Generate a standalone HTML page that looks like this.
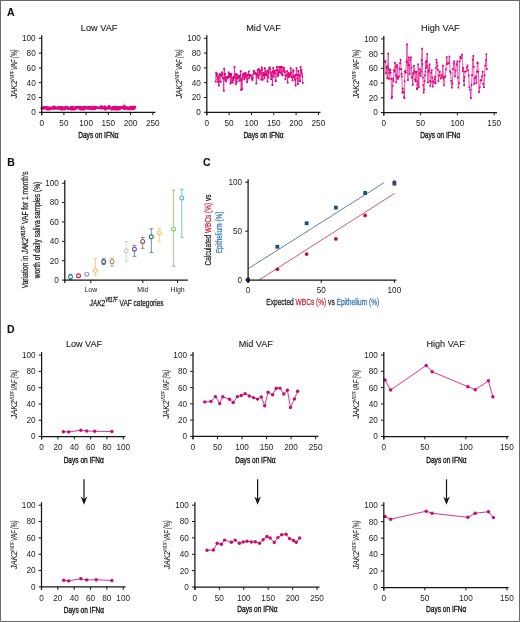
<!DOCTYPE html>
<html><head><meta charset="utf-8"><style>
html,body{margin:0;padding:0;background:#fff;}
svg{display:block;will-change:transform;}
text{font-family:"Liberation Sans", sans-serif;}
</style></head><body>
<svg width="520" height="622" viewBox="0 0 520 622" font-family='"Liberation Sans", sans-serif'>
<rect x="0" y="0" width="520" height="622" fill="#fff"/>
<rect x="0.5" y="0.5" width="519" height="621" fill="none" stroke="#6a6a6a" stroke-width="1"/>
<text x="7" y="16.2" font-size="10.5" fill="#111" stroke="#111" stroke-width="0.1" font-weight="bold">A</text>
<text x="7.2" y="165.5" font-size="10.5" fill="#111" stroke="#111" stroke-width="0.1" font-weight="bold">B</text>
<text x="203" y="165.5" font-size="10.5" fill="#111" stroke="#111" stroke-width="0.1" font-weight="bold">C</text>
<text x="7" y="332.7" font-size="10.5" fill="#111" stroke="#111" stroke-width="0.1" font-weight="bold">D</text>
<path d="M41.7 108.2 L42.14 107.63 L42.59 108.18 L43.03 108.24 L43.48 108.7 L43.92 108.17 L44.37 107.19 L44.81 107.69 L45.26 107.24 L45.7 107.82 L46.14 107.72 L46.59 107.87 L47.03 109.24 L47.48 107.38 L47.92 107.63 L48.37 107.64 L48.81 109.26 L49.25 109.3 L49.7 108.67 L50.14 108.35 L50.59 107.78 L51.03 108.04 L51.48 107.62 L51.92 108.48 L52.37 107.78 L52.81 107.72 L53.25 108.5 L53.7 106.74 L54.14 107.6 L54.59 107.12 L55.03 108.47 L55.48 108.56 L55.92 108.26 L56.37 108.09 L56.81 107.54 L57.25 107.82 L57.7 108.34 L58.14 108.72 L58.59 108.39 L59.03 107.1 L59.48 108.61 L59.92 107.83 L60.36 107.69 L60.81 109.11 L61.25 107.97 L61.7 107.04 L62.14 109.34 L62.59 108.25 L63.03 108.09 L63.48 108.61 L63.92 107.64 L64.36 108.05 L64.81 109.09 L65.25 107.4 L65.7 107.51 L66.14 107.31 L66.59 106.94 L67.03 107.74 L67.48 107.92 L67.92 108.97 L68.36 107.55 L68.81 108.46 L69.25 108.34 L69.7 108.94 L70.14 108.72 L70.59 108.4 L71.03 107.05 L71.47 109.34 L71.92 109.09 L72.36 107.83 L72.81 106.94 L73.25 107.58 L73.7 109.34 L74.14 109.34 L74.59 107.74 L75.03 108.55 L75.47 108.84 L75.92 107.28 L76.36 107.19 L76.81 107.89 L77.25 107.83 L77.7 107.69 L78.14 106.83 L78.59 107.55 L79.03 107.62 L79.47 107.6 L79.92 109.17 L80.36 107.06 L80.81 107.3 L81.25 107.62 L81.7 109.34 L82.14 108.48 L82.58 107.38 L83.03 109.34 L83.47 108.14 L83.92 107.25 L84.36 108.98 L84.81 106.82 L85.25 107.6 L85.7 108.12 L86.14 107.77 L86.58 107.53 L87.03 107.92 L87.47 107.16 L87.92 108.5 L88.36 108.31 L88.81 107.24 L89.25 107.99 L89.7 108.66 L90.14 107.31 L90.58 106.92 L91.03 108.34 L91.47 109.03 L91.92 108.11 L92.36 108.12 L92.81 108.23 L93.25 106.97 L93.69 108.77 L94.14 107.08 L94.58 108.95 L95.03 108.59 L95.47 107.54 L95.92 107.17 L96.36 107.37 L96.81 107.75 L97.25 107.9 L97.69 107.9 L98.14 107.58 L98.58 108.14 L99.03 107.8 L99.47 107.58 L99.92 108.01 L100.36 107.44 L100.81 107.59 L101.25 106.52 L101.69 107.77 L102.14 108.32 L102.58 108.28 L103.03 108.02 L103.47 107.32 L103.92 108.26 L104.36 107.72 L104.8 106.65 L105.25 109.34 L105.69 108.84 L106.14 107.83 L106.58 107.71 L107.03 107.83 L107.47 108.33 L107.92 107.52 L108.36 107.8 L108.8 108.39 L109.25 106.21 L109.69 107.75 L110.14 108.42 L110.58 108.08 L111.03 108.17 L111.47 108.05 L111.92 109.34 L112.36 108.37 L112.8 107.26 L113.25 108.87 L113.69 108.06 L114.14 107.3 L114.58 107.37 L115.03 106.9 L115.47 109.27 L115.91 108.27 L116.36 108.26 L116.8 107.55 L117.25 107.2 L117.69 109.34 L118.14 107.2 L118.58 109.08 L119.03 107.5 L119.47 109.11 L119.91 107.88 L120.36 107.12 L120.8 108.12 L121.25 107.87 L121.69 107.42 L122.14 107.9 L122.58 108.07 L123.03 106.87 L123.47 107.23 L123.91 108.23 L124.36 105.98 L124.8 108.86 L125.25 107.33 L125.69 108.2 L126.14 107.91 L126.58 107.49 L127.02 107.84 L127.47 107.54 L127.91 109.14 L128.36 109.13 L128.8 107.55 L129.25 108.72 L129.69 108.77 L130.14 109.1 L130.58 107.07 L131.02 107.46 L131.47 106.92 L131.91 108.7 L132.36 108.01 L132.8 108.85 L133.25 107.44 L133.69 106.83 L134.14 108.67 L134.58 106.85 L135.02 107.28" fill="none" stroke="#ec108e" stroke-width="1.6" stroke-linejoin="round"/>
<path d="M40.55 107.05h2.3v2.3h-2.3zM40.99 106.48h2.3v2.3h-2.3zM41.44 107.03h2.3v2.3h-2.3zM41.88 107.09h2.3v2.3h-2.3zM42.33 107.55h2.3v2.3h-2.3zM42.77 107.02h2.3v2.3h-2.3zM43.22 106.04h2.3v2.3h-2.3zM43.66 106.54h2.3v2.3h-2.3zM44.11 106.09h2.3v2.3h-2.3zM44.55 106.67h2.3v2.3h-2.3zM44.99 106.57h2.3v2.3h-2.3zM45.44 106.72h2.3v2.3h-2.3zM45.88 108.09h2.3v2.3h-2.3zM46.33 106.23h2.3v2.3h-2.3zM46.77 106.48h2.3v2.3h-2.3zM47.22 106.49h2.3v2.3h-2.3zM47.66 108.11h2.3v2.3h-2.3zM48.1 108.15h2.3v2.3h-2.3zM48.55 107.52h2.3v2.3h-2.3zM48.99 107.2h2.3v2.3h-2.3zM49.44 106.63h2.3v2.3h-2.3zM49.88 106.89h2.3v2.3h-2.3zM50.33 106.47h2.3v2.3h-2.3zM50.77 107.33h2.3v2.3h-2.3zM51.22 106.63h2.3v2.3h-2.3zM51.66 106.57h2.3v2.3h-2.3zM52.1 107.35h2.3v2.3h-2.3zM52.55 105.59h2.3v2.3h-2.3zM52.99 106.45h2.3v2.3h-2.3zM53.44 105.97h2.3v2.3h-2.3zM53.88 107.32h2.3v2.3h-2.3zM54.33 107.41h2.3v2.3h-2.3zM54.77 107.11h2.3v2.3h-2.3zM55.22 106.94h2.3v2.3h-2.3zM55.66 106.39h2.3v2.3h-2.3zM56.1 106.67h2.3v2.3h-2.3zM56.55 107.19h2.3v2.3h-2.3zM56.99 107.57h2.3v2.3h-2.3zM57.44 107.24h2.3v2.3h-2.3zM57.88 105.95h2.3v2.3h-2.3zM58.33 107.46h2.3v2.3h-2.3zM58.77 106.68h2.3v2.3h-2.3zM59.21 106.54h2.3v2.3h-2.3zM59.66 107.96h2.3v2.3h-2.3zM60.1 106.82h2.3v2.3h-2.3zM60.55 105.89h2.3v2.3h-2.3zM60.99 108.19h2.3v2.3h-2.3zM61.44 107.1h2.3v2.3h-2.3zM61.88 106.94h2.3v2.3h-2.3zM62.33 107.46h2.3v2.3h-2.3zM62.77 106.49h2.3v2.3h-2.3zM63.21 106.9h2.3v2.3h-2.3zM63.66 107.94h2.3v2.3h-2.3zM64.1 106.25h2.3v2.3h-2.3zM64.55 106.36h2.3v2.3h-2.3zM64.99 106.16h2.3v2.3h-2.3zM65.44 105.79h2.3v2.3h-2.3zM65.88 106.59h2.3v2.3h-2.3zM66.33 106.77h2.3v2.3h-2.3zM66.77 107.82h2.3v2.3h-2.3zM67.21 106.4h2.3v2.3h-2.3zM67.66 107.31h2.3v2.3h-2.3zM68.1 107.19h2.3v2.3h-2.3zM68.55 107.79h2.3v2.3h-2.3zM68.99 107.57h2.3v2.3h-2.3zM69.44 107.25h2.3v2.3h-2.3zM69.88 105.9h2.3v2.3h-2.3zM70.32 108.19h2.3v2.3h-2.3zM70.77 107.94h2.3v2.3h-2.3zM71.21 106.68h2.3v2.3h-2.3zM71.66 105.79h2.3v2.3h-2.3zM72.1 106.43h2.3v2.3h-2.3zM72.55 108.19h2.3v2.3h-2.3zM72.99 108.19h2.3v2.3h-2.3zM73.44 106.59h2.3v2.3h-2.3zM73.88 107.4h2.3v2.3h-2.3zM74.32 107.69h2.3v2.3h-2.3zM74.77 106.13h2.3v2.3h-2.3zM75.21 106.04h2.3v2.3h-2.3zM75.66 106.74h2.3v2.3h-2.3zM76.1 106.68h2.3v2.3h-2.3zM76.55 106.54h2.3v2.3h-2.3zM76.99 105.68h2.3v2.3h-2.3zM77.44 106.4h2.3v2.3h-2.3zM77.88 106.47h2.3v2.3h-2.3zM78.32 106.45h2.3v2.3h-2.3zM78.77 108.02h2.3v2.3h-2.3zM79.21 105.91h2.3v2.3h-2.3zM79.66 106.15h2.3v2.3h-2.3zM80.1 106.47h2.3v2.3h-2.3zM80.55 108.19h2.3v2.3h-2.3zM80.99 107.33h2.3v2.3h-2.3zM81.43 106.23h2.3v2.3h-2.3zM81.88 108.19h2.3v2.3h-2.3zM82.32 106.99h2.3v2.3h-2.3zM82.77 106.1h2.3v2.3h-2.3zM83.21 107.83h2.3v2.3h-2.3zM83.66 105.67h2.3v2.3h-2.3zM84.1 106.45h2.3v2.3h-2.3zM84.55 106.97h2.3v2.3h-2.3zM84.99 106.62h2.3v2.3h-2.3zM85.43 106.38h2.3v2.3h-2.3zM85.88 106.77h2.3v2.3h-2.3zM86.32 106.01h2.3v2.3h-2.3zM86.77 107.35h2.3v2.3h-2.3zM87.21 107.16h2.3v2.3h-2.3zM87.66 106.09h2.3v2.3h-2.3zM88.1 106.84h2.3v2.3h-2.3zM88.55 107.51h2.3v2.3h-2.3zM88.99 106.16h2.3v2.3h-2.3zM89.43 105.77h2.3v2.3h-2.3zM89.88 107.19h2.3v2.3h-2.3zM90.32 107.88h2.3v2.3h-2.3zM90.77 106.96h2.3v2.3h-2.3zM91.21 106.97h2.3v2.3h-2.3zM91.66 107.08h2.3v2.3h-2.3zM92.1 105.82h2.3v2.3h-2.3zM92.54 107.62h2.3v2.3h-2.3zM92.99 105.93h2.3v2.3h-2.3zM93.43 107.8h2.3v2.3h-2.3zM93.88 107.44h2.3v2.3h-2.3zM94.32 106.39h2.3v2.3h-2.3zM94.77 106.02h2.3v2.3h-2.3zM95.21 106.22h2.3v2.3h-2.3zM95.66 106.6h2.3v2.3h-2.3zM96.1 106.75h2.3v2.3h-2.3zM96.54 106.75h2.3v2.3h-2.3zM96.99 106.43h2.3v2.3h-2.3zM97.43 106.99h2.3v2.3h-2.3zM97.88 106.65h2.3v2.3h-2.3zM98.32 106.43h2.3v2.3h-2.3zM98.77 106.86h2.3v2.3h-2.3zM99.21 106.29h2.3v2.3h-2.3zM99.66 106.44h2.3v2.3h-2.3zM100.1 105.37h2.3v2.3h-2.3zM100.54 106.62h2.3v2.3h-2.3zM100.99 107.17h2.3v2.3h-2.3zM101.43 107.13h2.3v2.3h-2.3zM101.88 106.87h2.3v2.3h-2.3zM102.32 106.17h2.3v2.3h-2.3zM102.77 107.11h2.3v2.3h-2.3zM103.21 106.57h2.3v2.3h-2.3zM103.65 105.5h2.3v2.3h-2.3zM104.1 108.19h2.3v2.3h-2.3zM104.54 107.69h2.3v2.3h-2.3zM104.99 106.68h2.3v2.3h-2.3zM105.43 106.56h2.3v2.3h-2.3zM105.88 106.68h2.3v2.3h-2.3zM106.32 107.18h2.3v2.3h-2.3zM106.77 106.37h2.3v2.3h-2.3zM107.21 106.65h2.3v2.3h-2.3zM107.65 107.24h2.3v2.3h-2.3zM108.1 105.06h2.3v2.3h-2.3zM108.54 106.6h2.3v2.3h-2.3zM108.99 107.27h2.3v2.3h-2.3zM109.43 106.93h2.3v2.3h-2.3zM109.88 107.02h2.3v2.3h-2.3zM110.32 106.9h2.3v2.3h-2.3zM110.77 108.19h2.3v2.3h-2.3zM111.21 107.22h2.3v2.3h-2.3zM111.65 106.11h2.3v2.3h-2.3zM112.1 107.72h2.3v2.3h-2.3zM112.54 106.91h2.3v2.3h-2.3zM112.99 106.15h2.3v2.3h-2.3zM113.43 106.22h2.3v2.3h-2.3zM113.88 105.75h2.3v2.3h-2.3zM114.32 108.12h2.3v2.3h-2.3zM114.76 107.12h2.3v2.3h-2.3zM115.21 107.11h2.3v2.3h-2.3zM115.65 106.4h2.3v2.3h-2.3zM116.1 106.05h2.3v2.3h-2.3zM116.54 108.19h2.3v2.3h-2.3zM116.99 106.05h2.3v2.3h-2.3zM117.43 107.93h2.3v2.3h-2.3zM117.88 106.35h2.3v2.3h-2.3zM118.32 107.96h2.3v2.3h-2.3zM118.76 106.73h2.3v2.3h-2.3zM119.21 105.97h2.3v2.3h-2.3zM119.65 106.97h2.3v2.3h-2.3zM120.1 106.72h2.3v2.3h-2.3zM120.54 106.27h2.3v2.3h-2.3zM120.99 106.75h2.3v2.3h-2.3zM121.43 106.92h2.3v2.3h-2.3zM121.88 105.72h2.3v2.3h-2.3zM122.32 106.08h2.3v2.3h-2.3zM122.76 107.08h2.3v2.3h-2.3zM123.21 104.83h2.3v2.3h-2.3zM123.65 107.71h2.3v2.3h-2.3zM124.1 106.18h2.3v2.3h-2.3zM124.54 107.05h2.3v2.3h-2.3zM124.99 106.76h2.3v2.3h-2.3zM125.43 106.34h2.3v2.3h-2.3zM125.87 106.69h2.3v2.3h-2.3zM126.32 106.39h2.3v2.3h-2.3zM126.76 107.99h2.3v2.3h-2.3zM127.21 107.98h2.3v2.3h-2.3zM127.65 106.4h2.3v2.3h-2.3zM128.1 107.57h2.3v2.3h-2.3zM128.54 107.62h2.3v2.3h-2.3zM128.99 107.95h2.3v2.3h-2.3zM129.43 105.92h2.3v2.3h-2.3zM129.87 106.31h2.3v2.3h-2.3zM130.32 105.77h2.3v2.3h-2.3zM130.76 107.55h2.3v2.3h-2.3zM131.21 106.86h2.3v2.3h-2.3zM131.65 107.7h2.3v2.3h-2.3zM132.1 106.29h2.3v2.3h-2.3zM132.54 105.68h2.3v2.3h-2.3zM132.99 107.52h2.3v2.3h-2.3zM133.43 105.7h2.3v2.3h-2.3zM133.87 106.13h2.3v2.3h-2.3z" fill="#e0047f"/>
<line x1="41.7" y1="115.2" x2="41.7" y2="35.3" stroke="#141414" stroke-width="1.25"/>
<line x1="41.1" y1="112.3" x2="155.5" y2="112.3" stroke="#141414" stroke-width="1.25"/>
<line x1="38.8" y1="112.3" x2="41.7" y2="112.3" stroke="#141414" stroke-width="1"/>
<text x="35.7" y="115.2" font-size="8.2" fill="#1e1e1e" text-anchor="end">0</text>
<line x1="38.8" y1="97.5" x2="41.7" y2="97.5" stroke="#141414" stroke-width="1"/>
<text x="35.7" y="100.4" font-size="8.2" fill="#1e1e1e" text-anchor="end">20</text>
<line x1="38.8" y1="82.7" x2="41.7" y2="82.7" stroke="#141414" stroke-width="1"/>
<text x="35.7" y="85.6" font-size="8.2" fill="#1e1e1e" text-anchor="end">40</text>
<line x1="38.8" y1="67.9" x2="41.7" y2="67.9" stroke="#141414" stroke-width="1"/>
<text x="35.7" y="70.8" font-size="8.2" fill="#1e1e1e" text-anchor="end">60</text>
<line x1="38.8" y1="53.1" x2="41.7" y2="53.1" stroke="#141414" stroke-width="1"/>
<text x="35.7" y="56" font-size="8.2" fill="#1e1e1e" text-anchor="end">80</text>
<line x1="38.8" y1="38.3" x2="41.7" y2="38.3" stroke="#141414" stroke-width="1"/>
<text x="35.7" y="41.2" font-size="8.2" fill="#1e1e1e" text-anchor="end">100</text>
<line x1="41.7" y1="112.3" x2="41.7" y2="115.2" stroke="#141414" stroke-width="1"/>
<text x="41.7" y="125.6" font-size="8.2" fill="#1e1e1e" text-anchor="middle">0</text>
<line x1="63.92" y1="112.3" x2="63.92" y2="115.2" stroke="#141414" stroke-width="1"/>
<text x="63.92" y="125.6" font-size="8.2" fill="#1e1e1e" text-anchor="middle">50</text>
<line x1="86.14" y1="112.3" x2="86.14" y2="115.2" stroke="#141414" stroke-width="1"/>
<text x="86.14" y="125.6" font-size="8.2" fill="#1e1e1e" text-anchor="middle">100</text>
<line x1="108.36" y1="112.3" x2="108.36" y2="115.2" stroke="#141414" stroke-width="1"/>
<text x="108.36" y="125.6" font-size="8.2" fill="#1e1e1e" text-anchor="middle">150</text>
<line x1="130.58" y1="112.3" x2="130.58" y2="115.2" stroke="#141414" stroke-width="1"/>
<text x="130.58" y="125.6" font-size="8.2" fill="#1e1e1e" text-anchor="middle">200</text>
<line x1="152.8" y1="112.3" x2="152.8" y2="115.2" stroke="#141414" stroke-width="1"/>
<text x="152.8" y="125.6" font-size="8.2" fill="#1e1e1e" text-anchor="middle">250</text>
<text x="99.1" y="30.7" font-size="9.2" fill="#1a1a1a" stroke="#1a1a1a" stroke-width="0.1" text-anchor="middle">Low VAF</text>
<text x="17.2" y="98.6" font-size="8.5" fill="#262626" stroke="#262626" stroke-width="0.1" font-style="italic" transform="rotate(-90 17.2 98.6)" textLength="18.3" lengthAdjust="spacingAndGlyphs">JAK2</text>
<text x="13.7" y="80.5" font-size="5.355" fill="#262626" stroke="#262626" stroke-width="0.05" font-style="italic" transform="rotate(-90 13.7 80.5)" textLength="9.62" lengthAdjust="spacingAndGlyphs">V617F</text>
<text x="17.2" y="70.08" font-size="8.5" fill="#262626" stroke="#262626" stroke-width="0.1" font-style="italic" transform="rotate(-90 17.2 70.08)" textLength="20.78" lengthAdjust="spacingAndGlyphs">VAF (%)</text>
<text x="98.35" y="138" font-size="9.4" fill="#1e1e1e" stroke="#1e1e1e" stroke-width="0.42" text-anchor="middle" textLength="40.2" lengthAdjust="spacingAndGlyphs">Days on IFN&#945;</text>
<path d="M215.73 81.69 L216.17 72.71 L216.62 76.23 L217.07 74.13 L217.51 79.27 L217.96 82.04 L218.41 77.74 L218.85 85.66 L219.3 75.89 L219.75 73.78 L220.19 81.66 L220.64 81.92 L221.08 75.12 L221.53 75.91 L221.98 72.3 L222.42 74.18 L222.87 77.87 L223.32 78.45 L223.76 90.84 L224.21 68.77 L224.66 78.5 L225.1 73.82 L225.55 80.19 L226 81.39 L226.44 77.2 L226.89 77.03 L227.33 78.69 L227.78 77.73 L228.23 76.59 L228.67 72.34 L229.12 75.16 L229.57 73.79 L230.01 76.81 L230.46 83.61 L230.91 75.13 L231.35 73.82 L231.8 82.35 L232.24 78.1 L232.69 82.54 L233.14 77.51 L233.58 80.17 L234.03 76.79 L234.48 66.79 L234.92 77.69 L235.37 74.65 L235.82 84.18 L236.26 73.82 L236.71 82.02 L237.16 78.5 L237.6 75.26 L238.05 77.84 L238.49 76.26 L238.94 77.17 L239.39 80.94 L239.83 75.6 L240.28 80.28 L240.73 71.15 L241.17 89.73 L241.62 79.24 L242.07 89.36 L242.51 75.18 L242.96 77.47 L243.4 74.19 L243.85 73.3 L244.3 79.4 L244.74 73.9 L245.19 77.68 L245.64 72.92 L246.08 75.05 L246.53 76.65 L246.98 82.18 L247.42 79.7 L247.87 74.39 L248.32 75.37 L248.76 71.33 L249.21 78.16 L249.65 74.94 L250.1 75.06 L250.55 75.78 L250.99 75.99 L251.44 76.04 L251.89 78.65 L252.33 80.02 L252.78 77.88 L253.23 74.47 L253.67 70.86 L254.12 71.25 L254.56 73.03 L255.01 72.73 L255.46 73.62 L255.9 73.85 L256.35 83.59 L256.8 75.51 L257.24 73.47 L257.69 70.01 L258.14 77.12 L258.58 78.33 L259.03 69.25 L259.48 75.05 L259.92 70.71 L260.37 72.49 L260.81 72.78 L261.26 79.57 L261.71 67.38 L262.15 69.58 L262.6 79.89 L263.05 74.93 L263.49 72.93 L263.94 75.02 L264.39 78.41 L264.83 68.27 L265.28 75.7 L265.72 74 L266.17 71.43 L266.62 72.77 L267.06 74.94 L267.51 81.59 L267.96 70.45 L268.4 77.61 L268.85 72.27 L269.3 67.9 L269.74 67.31 L270.19 69.29 L270.64 74.07 L271.08 79.18 L271.53 76.17 L271.97 72.27 L272.42 85.22 L272.87 71.28 L273.31 67.81 L273.76 76.5 L274.21 73.07 L274.65 70.87 L275.1 73.62 L275.55 81.15 L275.99 81.22 L276.44 70.33 L276.88 66.79 L277.33 69.66 L277.78 76.2 L278.22 74.48 L278.67 72.32 L279.12 66.79 L279.56 70.98 L280.01 72.69 L280.46 67.78 L280.9 66.94 L281.35 73.36 L281.8 66.79 L282.24 75.41 L282.69 74.7 L283.13 70.63 L283.58 67.68 L284.03 68.23 L284.47 70.85 L284.92 72.05 L285.37 79.28 L285.81 75.51 L286.26 75.16 L286.71 74.9 L287.15 71.08 L287.6 82.7 L288.04 76.81 L288.49 72.99 L288.94 75.39 L289.38 76.8 L289.83 75.27 L290.28 74.21 L290.72 68.05 L291.17 72.75 L291.62 77.3 L292.06 76.46 L292.51 80.31 L292.96 70.21 L293.4 70.73 L293.85 76.28 L294.29 77.3 L294.74 79.88 L295.19 75.09 L295.63 85.66 L296.08 74.97 L296.53 68.24 L296.97 74.83 L297.42 78.32 L297.87 83.99 L298.31 70.87 L298.76 75.03 L299.2 81.15 L299.65 75.06 L300.1 81.15 L300.54 66.79 L300.99 71.86 L301.44 69.9 L301.88 73.72 L302.33 76.27 L302.78 82.95" fill="none" stroke="#ea2090" stroke-width="0.85" stroke-linejoin="round"/>
<path d="M214.83 80.79h1.8v1.8h-1.8zM215.27 71.81h1.8v1.8h-1.8zM215.72 75.33h1.8v1.8h-1.8zM216.17 73.23h1.8v1.8h-1.8zM216.61 78.37h1.8v1.8h-1.8zM217.06 81.14h1.8v1.8h-1.8zM217.51 76.84h1.8v1.8h-1.8zM217.95 84.76h1.8v1.8h-1.8zM218.4 74.99h1.8v1.8h-1.8zM218.85 72.88h1.8v1.8h-1.8zM219.29 80.76h1.8v1.8h-1.8zM219.74 81.02h1.8v1.8h-1.8zM220.18 74.22h1.8v1.8h-1.8zM220.63 75.01h1.8v1.8h-1.8zM221.08 71.4h1.8v1.8h-1.8zM221.52 73.28h1.8v1.8h-1.8zM221.97 76.97h1.8v1.8h-1.8zM222.42 77.55h1.8v1.8h-1.8zM222.86 89.94h1.8v1.8h-1.8zM223.31 67.87h1.8v1.8h-1.8zM223.76 77.6h1.8v1.8h-1.8zM224.2 72.92h1.8v1.8h-1.8zM224.65 79.29h1.8v1.8h-1.8zM225.1 80.49h1.8v1.8h-1.8zM225.54 76.3h1.8v1.8h-1.8zM225.99 76.13h1.8v1.8h-1.8zM226.43 77.79h1.8v1.8h-1.8zM226.88 76.83h1.8v1.8h-1.8zM227.33 75.69h1.8v1.8h-1.8zM227.77 71.44h1.8v1.8h-1.8zM228.22 74.26h1.8v1.8h-1.8zM228.67 72.89h1.8v1.8h-1.8zM229.11 75.91h1.8v1.8h-1.8zM229.56 82.71h1.8v1.8h-1.8zM230.01 74.23h1.8v1.8h-1.8zM230.45 72.92h1.8v1.8h-1.8zM230.9 81.45h1.8v1.8h-1.8zM231.34 77.2h1.8v1.8h-1.8zM231.79 81.64h1.8v1.8h-1.8zM232.24 76.61h1.8v1.8h-1.8zM232.68 79.27h1.8v1.8h-1.8zM233.13 75.89h1.8v1.8h-1.8zM233.58 65.89h1.8v1.8h-1.8zM234.02 76.79h1.8v1.8h-1.8zM234.47 73.75h1.8v1.8h-1.8zM234.92 83.28h1.8v1.8h-1.8zM235.36 72.92h1.8v1.8h-1.8zM235.81 81.12h1.8v1.8h-1.8zM236.26 77.6h1.8v1.8h-1.8zM236.7 74.36h1.8v1.8h-1.8zM237.15 76.94h1.8v1.8h-1.8zM237.59 75.36h1.8v1.8h-1.8zM238.04 76.27h1.8v1.8h-1.8zM238.49 80.04h1.8v1.8h-1.8zM238.93 74.7h1.8v1.8h-1.8zM239.38 79.38h1.8v1.8h-1.8zM239.83 70.25h1.8v1.8h-1.8zM240.27 88.83h1.8v1.8h-1.8zM240.72 78.34h1.8v1.8h-1.8zM241.17 88.46h1.8v1.8h-1.8zM241.61 74.28h1.8v1.8h-1.8zM242.06 76.57h1.8v1.8h-1.8zM242.5 73.29h1.8v1.8h-1.8zM242.95 72.4h1.8v1.8h-1.8zM243.4 78.5h1.8v1.8h-1.8zM243.84 73h1.8v1.8h-1.8zM244.29 76.78h1.8v1.8h-1.8zM244.74 72.02h1.8v1.8h-1.8zM245.18 74.15h1.8v1.8h-1.8zM245.63 75.75h1.8v1.8h-1.8zM246.08 81.28h1.8v1.8h-1.8zM246.52 78.8h1.8v1.8h-1.8zM246.97 73.49h1.8v1.8h-1.8zM247.42 74.47h1.8v1.8h-1.8zM247.86 70.43h1.8v1.8h-1.8zM248.31 77.26h1.8v1.8h-1.8zM248.75 74.04h1.8v1.8h-1.8zM249.2 74.16h1.8v1.8h-1.8zM249.65 74.88h1.8v1.8h-1.8zM250.09 75.09h1.8v1.8h-1.8zM250.54 75.14h1.8v1.8h-1.8zM250.99 77.75h1.8v1.8h-1.8zM251.43 79.12h1.8v1.8h-1.8zM251.88 76.98h1.8v1.8h-1.8zM252.33 73.57h1.8v1.8h-1.8zM252.77 69.96h1.8v1.8h-1.8zM253.22 70.35h1.8v1.8h-1.8zM253.66 72.13h1.8v1.8h-1.8zM254.11 71.83h1.8v1.8h-1.8zM254.56 72.72h1.8v1.8h-1.8zM255 72.95h1.8v1.8h-1.8zM255.45 82.69h1.8v1.8h-1.8zM255.9 74.61h1.8v1.8h-1.8zM256.34 72.57h1.8v1.8h-1.8zM256.79 69.11h1.8v1.8h-1.8zM257.24 76.22h1.8v1.8h-1.8zM257.68 77.43h1.8v1.8h-1.8zM258.13 68.35h1.8v1.8h-1.8zM258.58 74.15h1.8v1.8h-1.8zM259.02 69.81h1.8v1.8h-1.8zM259.47 71.59h1.8v1.8h-1.8zM259.91 71.88h1.8v1.8h-1.8zM260.36 78.67h1.8v1.8h-1.8zM260.81 66.48h1.8v1.8h-1.8zM261.25 68.68h1.8v1.8h-1.8zM261.7 78.99h1.8v1.8h-1.8zM262.15 74.03h1.8v1.8h-1.8zM262.59 72.03h1.8v1.8h-1.8zM263.04 74.12h1.8v1.8h-1.8zM263.49 77.51h1.8v1.8h-1.8zM263.93 67.37h1.8v1.8h-1.8zM264.38 74.8h1.8v1.8h-1.8zM264.82 73.1h1.8v1.8h-1.8zM265.27 70.53h1.8v1.8h-1.8zM265.72 71.87h1.8v1.8h-1.8zM266.16 74.04h1.8v1.8h-1.8zM266.61 80.69h1.8v1.8h-1.8zM267.06 69.55h1.8v1.8h-1.8zM267.5 76.71h1.8v1.8h-1.8zM267.95 71.37h1.8v1.8h-1.8zM268.4 67h1.8v1.8h-1.8zM268.84 66.41h1.8v1.8h-1.8zM269.29 68.39h1.8v1.8h-1.8zM269.74 73.17h1.8v1.8h-1.8zM270.18 78.28h1.8v1.8h-1.8zM270.63 75.27h1.8v1.8h-1.8zM271.07 71.37h1.8v1.8h-1.8zM271.52 84.32h1.8v1.8h-1.8zM271.97 70.38h1.8v1.8h-1.8zM272.41 66.91h1.8v1.8h-1.8zM272.86 75.6h1.8v1.8h-1.8zM273.31 72.17h1.8v1.8h-1.8zM273.75 69.97h1.8v1.8h-1.8zM274.2 72.72h1.8v1.8h-1.8zM274.65 80.25h1.8v1.8h-1.8zM275.09 80.32h1.8v1.8h-1.8zM275.54 69.43h1.8v1.8h-1.8zM275.98 65.89h1.8v1.8h-1.8zM276.43 68.76h1.8v1.8h-1.8zM276.88 75.3h1.8v1.8h-1.8zM277.32 73.58h1.8v1.8h-1.8zM277.77 71.42h1.8v1.8h-1.8zM278.22 65.89h1.8v1.8h-1.8zM278.66 70.08h1.8v1.8h-1.8zM279.11 71.79h1.8v1.8h-1.8zM279.56 66.88h1.8v1.8h-1.8zM280 66.04h1.8v1.8h-1.8zM280.45 72.46h1.8v1.8h-1.8zM280.9 65.89h1.8v1.8h-1.8zM281.34 74.51h1.8v1.8h-1.8zM281.79 73.8h1.8v1.8h-1.8zM282.23 69.73h1.8v1.8h-1.8zM282.68 66.78h1.8v1.8h-1.8zM283.13 67.33h1.8v1.8h-1.8zM283.57 69.95h1.8v1.8h-1.8zM284.02 71.15h1.8v1.8h-1.8zM284.47 78.38h1.8v1.8h-1.8zM284.91 74.61h1.8v1.8h-1.8zM285.36 74.26h1.8v1.8h-1.8zM285.81 74h1.8v1.8h-1.8zM286.25 70.18h1.8v1.8h-1.8zM286.7 81.8h1.8v1.8h-1.8zM287.14 75.91h1.8v1.8h-1.8zM287.59 72.09h1.8v1.8h-1.8zM288.04 74.49h1.8v1.8h-1.8zM288.48 75.9h1.8v1.8h-1.8zM288.93 74.37h1.8v1.8h-1.8zM289.38 73.31h1.8v1.8h-1.8zM289.82 67.15h1.8v1.8h-1.8zM290.27 71.85h1.8v1.8h-1.8zM290.72 76.4h1.8v1.8h-1.8zM291.16 75.56h1.8v1.8h-1.8zM291.61 79.41h1.8v1.8h-1.8zM292.06 69.31h1.8v1.8h-1.8zM292.5 69.83h1.8v1.8h-1.8zM292.95 75.38h1.8v1.8h-1.8zM293.39 76.4h1.8v1.8h-1.8zM293.84 78.98h1.8v1.8h-1.8zM294.29 74.19h1.8v1.8h-1.8zM294.73 84.76h1.8v1.8h-1.8zM295.18 74.07h1.8v1.8h-1.8zM295.63 67.34h1.8v1.8h-1.8zM296.07 73.93h1.8v1.8h-1.8zM296.52 77.42h1.8v1.8h-1.8zM296.97 83.09h1.8v1.8h-1.8zM297.41 69.97h1.8v1.8h-1.8zM297.86 74.13h1.8v1.8h-1.8zM298.3 80.25h1.8v1.8h-1.8zM298.75 74.16h1.8v1.8h-1.8zM299.2 80.25h1.8v1.8h-1.8zM299.64 65.89h1.8v1.8h-1.8zM300.09 70.96h1.8v1.8h-1.8zM300.54 69h1.8v1.8h-1.8zM300.98 72.82h1.8v1.8h-1.8zM301.43 75.37h1.8v1.8h-1.8zM301.88 82.05h1.8v1.8h-1.8z" fill="#d8047e"/>
<line x1="206.8" y1="115.2" x2="206.8" y2="35.3" stroke="#141414" stroke-width="1.25"/>
<line x1="206.2" y1="112.3" x2="320.5" y2="112.3" stroke="#141414" stroke-width="1.25"/>
<line x1="203.9" y1="112.3" x2="206.8" y2="112.3" stroke="#141414" stroke-width="1"/>
<text x="200.8" y="115.2" font-size="8.2" fill="#1e1e1e" text-anchor="end">0</text>
<line x1="203.9" y1="97.5" x2="206.8" y2="97.5" stroke="#141414" stroke-width="1"/>
<text x="200.8" y="100.4" font-size="8.2" fill="#1e1e1e" text-anchor="end">20</text>
<line x1="203.9" y1="82.7" x2="206.8" y2="82.7" stroke="#141414" stroke-width="1"/>
<text x="200.8" y="85.6" font-size="8.2" fill="#1e1e1e" text-anchor="end">40</text>
<line x1="203.9" y1="67.9" x2="206.8" y2="67.9" stroke="#141414" stroke-width="1"/>
<text x="200.8" y="70.8" font-size="8.2" fill="#1e1e1e" text-anchor="end">60</text>
<line x1="203.9" y1="53.1" x2="206.8" y2="53.1" stroke="#141414" stroke-width="1"/>
<text x="200.8" y="56" font-size="8.2" fill="#1e1e1e" text-anchor="end">80</text>
<line x1="203.9" y1="38.3" x2="206.8" y2="38.3" stroke="#141414" stroke-width="1"/>
<text x="200.8" y="41.2" font-size="8.2" fill="#1e1e1e" text-anchor="end">100</text>
<line x1="206.8" y1="112.3" x2="206.8" y2="115.2" stroke="#141414" stroke-width="1"/>
<text x="206.8" y="125.6" font-size="8.2" fill="#1e1e1e" text-anchor="middle">0</text>
<line x1="229.12" y1="112.3" x2="229.12" y2="115.2" stroke="#141414" stroke-width="1"/>
<text x="229.12" y="125.6" font-size="8.2" fill="#1e1e1e" text-anchor="middle">50</text>
<line x1="251.44" y1="112.3" x2="251.44" y2="115.2" stroke="#141414" stroke-width="1"/>
<text x="251.44" y="125.6" font-size="8.2" fill="#1e1e1e" text-anchor="middle">100</text>
<line x1="273.76" y1="112.3" x2="273.76" y2="115.2" stroke="#141414" stroke-width="1"/>
<text x="273.76" y="125.6" font-size="8.2" fill="#1e1e1e" text-anchor="middle">150</text>
<line x1="296.08" y1="112.3" x2="296.08" y2="115.2" stroke="#141414" stroke-width="1"/>
<text x="296.08" y="125.6" font-size="8.2" fill="#1e1e1e" text-anchor="middle">200</text>
<line x1="318.4" y1="112.3" x2="318.4" y2="115.2" stroke="#141414" stroke-width="1"/>
<text x="318.4" y="125.6" font-size="8.2" fill="#1e1e1e" text-anchor="middle">250</text>
<text x="263.5" y="30.7" font-size="9.2" fill="#1a1a1a" stroke="#1a1a1a" stroke-width="0.1" text-anchor="middle">Mid VAF</text>
<text x="182.5" y="98.6" font-size="8.5" fill="#262626" stroke="#262626" stroke-width="0.1" font-style="italic" transform="rotate(-90 182.5 98.6)" textLength="18.3" lengthAdjust="spacingAndGlyphs">JAK2</text>
<text x="179" y="80.5" font-size="5.355" fill="#262626" stroke="#262626" stroke-width="0.05" font-style="italic" transform="rotate(-90 179 80.5)" textLength="9.62" lengthAdjust="spacingAndGlyphs">V617F</text>
<text x="182.5" y="70.08" font-size="8.5" fill="#262626" stroke="#262626" stroke-width="0.1" font-style="italic" transform="rotate(-90 182.5 70.08)" textLength="20.78" lengthAdjust="spacingAndGlyphs">VAF (%)</text>
<text x="263.5" y="138" font-size="9.4" fill="#1e1e1e" stroke="#1e1e1e" stroke-width="0.42" text-anchor="middle" textLength="40.2" lengthAdjust="spacingAndGlyphs">Days on IFN&#945;</text>
<path d="M384.67 60.98 L385.14 61.95 L385.62 61.35 L386.06 73.18 L386.5 67.6 L386.87 66.69 L387.24 78.2 L387.75 66.34 L388.26 53.62 L388.63 68.9 L389 78.86 L389.44 72.94 L389.88 70.55 L390.28 69.84 L390.69 72.76 L391.16 78.84 L391.64 98.15 L392.12 96.58 L392.59 86 L393.03 78.59 L393.48 81.22 L394.03 69.83 L394.58 71.58 L395.05 62.81 L395.53 66.87 L395.9 75.47 L396.26 82.47 L396.67 77 L397.07 64.95 L397.51 67.41 L397.95 78.86 L398.43 77.14 L398.91 76.44 L399.49 69.26 L400.08 63.19 L400.59 59.88 L401.11 69.15 L401.51 73.96 L401.92 76.44 L402.36 92.61 L402.8 88.51 L403.27 92.02 L403.75 92.11 L404.12 97.04 L404.49 98.15 L404.67 81.25 L404.85 71.58 L405.37 70.77 L405.88 72.76 L406.47 61.29 L407.05 44.42 L407.49 62.31 L407.93 80.12 L408.38 65.03 L408.82 57.3 L409.29 65.42 L409.77 74.23 L410.36 59.91 L410.94 57.3 L411.46 67.73 L411.97 77.61 L412.38 76.66 L412.78 84.9 L413.07 72.98 L413.37 74.23 L413.99 65.79 L414.61 71.58 L415.09 79.37 L415.57 81.22 L416.01 72.51 L416.45 71.58 L416.85 88.62 L417.26 89.1 L417.73 81.51 L418.21 64.37 L418.5 84.48 L418.8 87.26 L419.42 73.48 L420.05 69.15 L420.63 75.8 L421.22 71.58 L421.66 60.19 L422.1 48.69 L422.47 64 L422.84 77.61 L423.24 85.25 L423.64 92.63 L424.08 89.54 L424.52 81.22 L424.96 75.37 L425.4 71.58 L425.77 61.86 L426.14 67.97 L426.65 60.86 L427.17 54.14 L427.53 65.96 L427.9 82.47 L428.38 72.02 L428.85 70.4 L429.26 68.26 L429.66 64.37 L429.99 80.75 L430.32 86 L430.8 81.83 L431.28 72.76 L431.72 70.44 L432.16 77.61 L432.74 86.69 L433.33 81.22 L433.92 82.68 L434.51 78.86 L435.09 76.51 L435.68 83.06 L436.01 67.78 L436.34 59.51 L436.89 62.49 L437.44 65.54 L437.92 69.83 L438.4 81.22 L439.09 75.67 L439.79 71.58 L440.71 78.59 L441.63 75.18 L442.25 77.27 L442.87 65.54 L443.46 78.34 L444.05 85.49 L444.63 76.89 L445.22 76.44 L445.96 69.29 L446.69 57.15 L447.35 64.16 L448.01 63.19 L448.75 63.28 L449.48 56.56 L450.07 71.42 L450.65 72.76 L451.24 80.78 L451.83 87.77 L452.45 83.67 L453.08 69.15 L453.66 63.64 L454.25 61.35 L454.98 76.3 L455.72 70.4 L456.53 64.43 L457.33 61.35 L457.88 77.39 L458.43 87.77 L459.06 83.14 L459.68 61.35 L460.27 56.64 L460.86 58.33 L461.48 57.74 L462.1 54.72 L462.69 71.2 L463.28 67.97 L463.72 80.59 L464.16 85.49 L464.6 77.25 L465.04 71.58 L465.99 71.51 L466.95 67.38 L467.54 65.45 L468.12 70.4 L468.71 75.53 L469.3 87.26 L470.1 89.76 L470.91 98.15 L471.5 85.22 L472.09 75.18 L472.71 59.65 L473.33 55.9 L473.74 66.93 L474.14 83.8 L474.95 78.12 L475.76 76.44 L476.34 83.21 L476.93 71.58 L477.37 63.09 L477.81 62.53 L478.4 71.54 L478.99 92.11 L479.76 87.43 L480.53 80.12 L481.26 80.35 L482 76.44 L482.62 71.55 L483.24 83.8 L483.94 87.25 L484.64 75.18 L485.26 65.64 L485.89 60.24 L486.36 53.99 L486.84 69.15" fill="none" stroke="#ea2090" stroke-width="0.75" stroke-linejoin="round"/>
<path d="M383.82 60.13h1.7v1.7h-1.7zM384.29 61.1h1.7v1.7h-1.7zM384.77 60.5h1.7v1.7h-1.7zM385.21 72.33h1.7v1.7h-1.7zM385.65 66.75h1.7v1.7h-1.7zM386.02 65.84h1.7v1.7h-1.7zM386.39 77.35h1.7v1.7h-1.7zM386.9 65.49h1.7v1.7h-1.7zM387.41 52.77h1.7v1.7h-1.7zM387.78 68.05h1.7v1.7h-1.7zM388.15 78.01h1.7v1.7h-1.7zM388.59 72.09h1.7v1.7h-1.7zM389.03 69.7h1.7v1.7h-1.7zM389.43 68.99h1.7v1.7h-1.7zM389.84 71.91h1.7v1.7h-1.7zM390.31 77.99h1.7v1.7h-1.7zM390.79 97.3h1.7v1.7h-1.7zM391.27 95.73h1.7v1.7h-1.7zM391.74 85.15h1.7v1.7h-1.7zM392.18 77.74h1.7v1.7h-1.7zM392.62 80.37h1.7v1.7h-1.7zM393.18 68.98h1.7v1.7h-1.7zM393.73 70.73h1.7v1.7h-1.7zM394.2 61.96h1.7v1.7h-1.7zM394.68 66.02h1.7v1.7h-1.7zM395.05 74.62h1.7v1.7h-1.7zM395.41 81.62h1.7v1.7h-1.7zM395.82 76.15h1.7v1.7h-1.7zM396.22 64.1h1.7v1.7h-1.7zM396.66 66.56h1.7v1.7h-1.7zM397.1 78.01h1.7v1.7h-1.7zM397.58 76.29h1.7v1.7h-1.7zM398.06 75.59h1.7v1.7h-1.7zM398.64 68.41h1.7v1.7h-1.7zM399.23 62.34h1.7v1.7h-1.7zM399.74 59.03h1.7v1.7h-1.7zM400.26 68.3h1.7v1.7h-1.7zM400.66 73.11h1.7v1.7h-1.7zM401.07 75.59h1.7v1.7h-1.7zM401.51 91.76h1.7v1.7h-1.7zM401.95 87.66h1.7v1.7h-1.7zM402.42 91.17h1.7v1.7h-1.7zM402.9 91.26h1.7v1.7h-1.7zM403.27 96.19h1.7v1.7h-1.7zM403.63 97.3h1.7v1.7h-1.7zM403.82 80.4h1.7v1.7h-1.7zM404 70.73h1.7v1.7h-1.7zM404.52 69.92h1.7v1.7h-1.7zM405.03 71.91h1.7v1.7h-1.7zM405.62 60.44h1.7v1.7h-1.7zM406.2 43.57h1.7v1.7h-1.7zM406.64 61.46h1.7v1.7h-1.7zM407.08 79.27h1.7v1.7h-1.7zM407.53 64.18h1.7v1.7h-1.7zM407.97 56.45h1.7v1.7h-1.7zM408.44 64.57h1.7v1.7h-1.7zM408.92 73.38h1.7v1.7h-1.7zM409.51 59.06h1.7v1.7h-1.7zM410.09 56.45h1.7v1.7h-1.7zM410.61 66.88h1.7v1.7h-1.7zM411.12 76.76h1.7v1.7h-1.7zM411.53 75.81h1.7v1.7h-1.7zM411.93 84.05h1.7v1.7h-1.7zM412.22 72.13h1.7v1.7h-1.7zM412.52 73.38h1.7v1.7h-1.7zM413.14 64.94h1.7v1.7h-1.7zM413.76 70.73h1.7v1.7h-1.7zM414.24 78.52h1.7v1.7h-1.7zM414.72 80.37h1.7v1.7h-1.7zM415.16 71.66h1.7v1.7h-1.7zM415.6 70.73h1.7v1.7h-1.7zM416 87.77h1.7v1.7h-1.7zM416.41 88.25h1.7v1.7h-1.7zM416.88 80.66h1.7v1.7h-1.7zM417.36 63.52h1.7v1.7h-1.7zM417.65 83.63h1.7v1.7h-1.7zM417.95 86.41h1.7v1.7h-1.7zM418.57 72.63h1.7v1.7h-1.7zM419.2 68.3h1.7v1.7h-1.7zM419.78 74.95h1.7v1.7h-1.7zM420.37 70.73h1.7v1.7h-1.7zM420.81 59.34h1.7v1.7h-1.7zM421.25 47.84h1.7v1.7h-1.7zM421.62 63.15h1.7v1.7h-1.7zM421.99 76.76h1.7v1.7h-1.7zM422.39 84.4h1.7v1.7h-1.7zM422.79 91.78h1.7v1.7h-1.7zM423.23 88.69h1.7v1.7h-1.7zM423.67 80.37h1.7v1.7h-1.7zM424.11 74.52h1.7v1.7h-1.7zM424.55 70.73h1.7v1.7h-1.7zM424.92 61.01h1.7v1.7h-1.7zM425.29 67.12h1.7v1.7h-1.7zM425.8 60.01h1.7v1.7h-1.7zM426.32 53.29h1.7v1.7h-1.7zM426.68 65.11h1.7v1.7h-1.7zM427.05 81.62h1.7v1.7h-1.7zM427.53 71.17h1.7v1.7h-1.7zM428 69.55h1.7v1.7h-1.7zM428.41 67.41h1.7v1.7h-1.7zM428.81 63.52h1.7v1.7h-1.7zM429.14 79.9h1.7v1.7h-1.7zM429.47 85.15h1.7v1.7h-1.7zM429.95 80.98h1.7v1.7h-1.7zM430.43 71.91h1.7v1.7h-1.7zM430.87 69.59h1.7v1.7h-1.7zM431.31 76.76h1.7v1.7h-1.7zM431.89 85.84h1.7v1.7h-1.7zM432.48 80.37h1.7v1.7h-1.7zM433.07 81.83h1.7v1.7h-1.7zM433.66 78.01h1.7v1.7h-1.7zM434.24 75.66h1.7v1.7h-1.7zM434.83 82.21h1.7v1.7h-1.7zM435.16 66.93h1.7v1.7h-1.7zM435.49 58.66h1.7v1.7h-1.7zM436.04 61.64h1.7v1.7h-1.7zM436.59 64.69h1.7v1.7h-1.7zM437.07 68.98h1.7v1.7h-1.7zM437.55 80.37h1.7v1.7h-1.7zM438.24 74.82h1.7v1.7h-1.7zM438.94 70.73h1.7v1.7h-1.7zM439.86 77.74h1.7v1.7h-1.7zM440.78 74.33h1.7v1.7h-1.7zM441.4 76.42h1.7v1.7h-1.7zM442.02 64.69h1.7v1.7h-1.7zM442.61 77.49h1.7v1.7h-1.7zM443.2 84.64h1.7v1.7h-1.7zM443.78 76.04h1.7v1.7h-1.7zM444.37 75.59h1.7v1.7h-1.7zM445.11 68.44h1.7v1.7h-1.7zM445.84 56.3h1.7v1.7h-1.7zM446.5 63.31h1.7v1.7h-1.7zM447.16 62.34h1.7v1.7h-1.7zM447.9 62.43h1.7v1.7h-1.7zM448.63 55.71h1.7v1.7h-1.7zM449.22 70.57h1.7v1.7h-1.7zM449.8 71.91h1.7v1.7h-1.7zM450.39 79.93h1.7v1.7h-1.7zM450.98 86.92h1.7v1.7h-1.7zM451.6 82.82h1.7v1.7h-1.7zM452.23 68.3h1.7v1.7h-1.7zM452.81 62.79h1.7v1.7h-1.7zM453.4 60.5h1.7v1.7h-1.7zM454.13 75.45h1.7v1.7h-1.7zM454.87 69.55h1.7v1.7h-1.7zM455.68 63.58h1.7v1.7h-1.7zM456.48 60.5h1.7v1.7h-1.7zM457.03 76.54h1.7v1.7h-1.7zM457.58 86.92h1.7v1.7h-1.7zM458.21 82.29h1.7v1.7h-1.7zM458.83 60.5h1.7v1.7h-1.7zM459.42 55.79h1.7v1.7h-1.7zM460.01 57.48h1.7v1.7h-1.7zM460.63 56.89h1.7v1.7h-1.7zM461.25 53.87h1.7v1.7h-1.7zM461.84 70.35h1.7v1.7h-1.7zM462.43 67.12h1.7v1.7h-1.7zM462.87 79.74h1.7v1.7h-1.7zM463.31 84.64h1.7v1.7h-1.7zM463.75 76.4h1.7v1.7h-1.7zM464.19 70.73h1.7v1.7h-1.7zM465.14 70.66h1.7v1.7h-1.7zM466.1 66.53h1.7v1.7h-1.7zM466.69 64.6h1.7v1.7h-1.7zM467.27 69.55h1.7v1.7h-1.7zM467.86 74.68h1.7v1.7h-1.7zM468.45 86.41h1.7v1.7h-1.7zM469.25 88.91h1.7v1.7h-1.7zM470.06 97.3h1.7v1.7h-1.7zM470.65 84.37h1.7v1.7h-1.7zM471.24 74.33h1.7v1.7h-1.7zM471.86 58.8h1.7v1.7h-1.7zM472.48 55.05h1.7v1.7h-1.7zM472.89 66.08h1.7v1.7h-1.7zM473.29 82.95h1.7v1.7h-1.7zM474.1 77.27h1.7v1.7h-1.7zM474.91 75.59h1.7v1.7h-1.7zM475.49 82.36h1.7v1.7h-1.7zM476.08 70.73h1.7v1.7h-1.7zM476.52 62.24h1.7v1.7h-1.7zM476.96 61.68h1.7v1.7h-1.7zM477.55 70.69h1.7v1.7h-1.7zM478.14 91.26h1.7v1.7h-1.7zM478.91 86.58h1.7v1.7h-1.7zM479.68 79.27h1.7v1.7h-1.7zM480.41 79.5h1.7v1.7h-1.7zM481.15 75.59h1.7v1.7h-1.7zM481.77 70.7h1.7v1.7h-1.7zM482.39 82.95h1.7v1.7h-1.7zM483.09 86.4h1.7v1.7h-1.7zM483.79 74.33h1.7v1.7h-1.7zM484.41 64.79h1.7v1.7h-1.7zM485.04 59.39h1.7v1.7h-1.7zM485.51 53.14h1.7v1.7h-1.7zM485.99 68.3h1.7v1.7h-1.7z" fill="#d8047e"/>
<line x1="383.8" y1="115.4" x2="383.8" y2="35.9" stroke="#141414" stroke-width="1.25"/>
<line x1="383.2" y1="112.5" x2="497" y2="112.5" stroke="#141414" stroke-width="1.25"/>
<line x1="380.9" y1="112.5" x2="383.8" y2="112.5" stroke="#141414" stroke-width="1"/>
<text x="377.8" y="115.4" font-size="8.2" fill="#1e1e1e" text-anchor="end">0</text>
<line x1="380.9" y1="97.78" x2="383.8" y2="97.78" stroke="#141414" stroke-width="1"/>
<text x="377.8" y="100.68" font-size="8.2" fill="#1e1e1e" text-anchor="end">20</text>
<line x1="380.9" y1="83.06" x2="383.8" y2="83.06" stroke="#141414" stroke-width="1"/>
<text x="377.8" y="85.96" font-size="8.2" fill="#1e1e1e" text-anchor="end">40</text>
<line x1="380.9" y1="68.34" x2="383.8" y2="68.34" stroke="#141414" stroke-width="1"/>
<text x="377.8" y="71.24" font-size="8.2" fill="#1e1e1e" text-anchor="end">60</text>
<line x1="380.9" y1="53.62" x2="383.8" y2="53.62" stroke="#141414" stroke-width="1"/>
<text x="377.8" y="56.52" font-size="8.2" fill="#1e1e1e" text-anchor="end">80</text>
<line x1="380.9" y1="38.9" x2="383.8" y2="38.9" stroke="#141414" stroke-width="1"/>
<text x="377.8" y="41.8" font-size="8.2" fill="#1e1e1e" text-anchor="end">100</text>
<line x1="383.8" y1="112.5" x2="383.8" y2="115.4" stroke="#141414" stroke-width="1"/>
<text x="383.8" y="125.8" font-size="8.2" fill="#1e1e1e" text-anchor="middle">0</text>
<line x1="420.6" y1="112.5" x2="420.6" y2="115.4" stroke="#141414" stroke-width="1"/>
<text x="420.6" y="125.8" font-size="8.2" fill="#1e1e1e" text-anchor="middle">50</text>
<line x1="457.4" y1="112.5" x2="457.4" y2="115.4" stroke="#141414" stroke-width="1"/>
<text x="457.4" y="125.8" font-size="8.2" fill="#1e1e1e" text-anchor="middle">100</text>
<line x1="494.2" y1="112.5" x2="494.2" y2="115.4" stroke="#141414" stroke-width="1"/>
<text x="494.2" y="125.8" font-size="8.2" fill="#1e1e1e" text-anchor="middle">150</text>
<text x="440.4" y="30.7" font-size="9.2" fill="#1a1a1a" stroke="#1a1a1a" stroke-width="0.1" text-anchor="middle">High VAF</text>
<text x="359.5" y="98.6" font-size="8.5" fill="#262626" stroke="#262626" stroke-width="0.1" font-style="italic" transform="rotate(-90 359.5 98.6)" textLength="18.3" lengthAdjust="spacingAndGlyphs">JAK2</text>
<text x="356" y="80.5" font-size="5.355" fill="#262626" stroke="#262626" stroke-width="0.05" font-style="italic" transform="rotate(-90 356 80.5)" textLength="9.62" lengthAdjust="spacingAndGlyphs">V617F</text>
<text x="359.5" y="70.08" font-size="8.5" fill="#262626" stroke="#262626" stroke-width="0.1" font-style="italic" transform="rotate(-90 359.5 70.08)" textLength="20.78" lengthAdjust="spacingAndGlyphs">VAF (%)</text>
<text x="440.25" y="138" font-size="9.4" fill="#1e1e1e" stroke="#1e1e1e" stroke-width="0.42" text-anchor="middle" textLength="40.2" lengthAdjust="spacingAndGlyphs">Days on IFN&#945;</text>
<text x="25.0" y="229.8" font-size="9.2" fill="#1e1e1e" stroke="#1e1e1e" stroke-width="0.26" text-anchor="middle" transform="rotate(-90 25.0 229.8)" dy="3.2" textLength="117" lengthAdjust="spacingAndGlyphs">Variation in <tspan font-style="italic">JAK2</tspan><tspan font-style="italic" font-size="5.6" dy="-3">V617F</tspan><tspan dy="3"> VAF for 1 month&#8217;s</tspan></text>
<text x="37.2" y="230.0" font-size="9.2" fill="#1e1e1e" stroke="#1e1e1e" stroke-width="0.26" text-anchor="middle" transform="rotate(-90 37.2 230)" dy="3.2" textLength="96.5" lengthAdjust="spacingAndGlyphs">worth of daily saliva samples (%)</text>
<line x1="70.5" y1="274.2" x2="70.5" y2="279.5" stroke="#1f7a86" stroke-width="0.75"/>
<line x1="68.6" y1="274.2" x2="72.4" y2="274.2" stroke="#1f7a86" stroke-width="0.75"/>
<line x1="68.6" y1="279.5" x2="72.4" y2="279.5" stroke="#1f7a86" stroke-width="0.75"/>
<circle cx="70.5" cy="277" r="1.95" fill="#fff" stroke="#1f7a86" stroke-width="1.1"/>
<circle cx="78.5" cy="275.8" r="1.95" fill="#fff" stroke="#cf1f3c" stroke-width="1.1"/>
<circle cx="86.8" cy="274.2" r="1.95" fill="#fff" stroke="#8a96e0" stroke-width="1.1"/>
<line x1="95.3" y1="258.3" x2="95.3" y2="275.3" stroke="#f2b868" stroke-width="0.75"/>
<line x1="93.4" y1="258.3" x2="97.2" y2="258.3" stroke="#f2b868" stroke-width="0.75"/>
<line x1="93.4" y1="275.3" x2="97.2" y2="275.3" stroke="#f2b868" stroke-width="0.75"/>
<circle cx="95.3" cy="270.5" r="1.95" fill="#fff" stroke="#f2b868" stroke-width="1.1"/>
<line x1="103.7" y1="258.8" x2="103.7" y2="264.6" stroke="#3f5878" stroke-width="0.75"/>
<line x1="101.8" y1="258.8" x2="105.6" y2="258.8" stroke="#3f5878" stroke-width="0.75"/>
<line x1="101.8" y1="264.6" x2="105.6" y2="264.6" stroke="#3f5878" stroke-width="0.75"/>
<circle cx="103.7" cy="261.8" r="1.95" fill="#fff" stroke="#3f5878" stroke-width="1.1"/>
<line x1="112" y1="258.4" x2="112" y2="266.1" stroke="#b0906a" stroke-width="0.75"/>
<line x1="110.1" y1="258.4" x2="113.9" y2="258.4" stroke="#b0906a" stroke-width="0.75"/>
<line x1="110.1" y1="266.1" x2="113.9" y2="266.1" stroke="#b0906a" stroke-width="0.75"/>
<circle cx="112" cy="261.7" r="1.95" fill="#fff" stroke="#b0906a" stroke-width="1.1"/>
<line x1="126.2" y1="241.5" x2="126.2" y2="261.3" stroke="#c3ccb4" stroke-width="0.75"/>
<line x1="124.3" y1="241.5" x2="128.1" y2="241.5" stroke="#c3ccb4" stroke-width="0.75"/>
<line x1="124.3" y1="261.3" x2="128.1" y2="261.3" stroke="#c3ccb4" stroke-width="0.75"/>
<circle cx="126.2" cy="250.8" r="1.95" fill="#fff" stroke="#c3ccb4" stroke-width="1.1"/>
<line x1="134.4" y1="245.4" x2="134.4" y2="256.3" stroke="#6f4f88" stroke-width="0.75"/>
<line x1="132.5" y1="245.4" x2="136.3" y2="245.4" stroke="#6f4f88" stroke-width="0.75"/>
<line x1="132.5" y1="256.3" x2="136.3" y2="256.3" stroke="#6f4f88" stroke-width="0.75"/>
<circle cx="134.4" cy="249.2" r="1.95" fill="#fff" stroke="#6f4f88" stroke-width="1.1"/>
<line x1="142.7" y1="237.5" x2="142.7" y2="248.3" stroke="#7d5e4e" stroke-width="0.75"/>
<line x1="140.8" y1="237.5" x2="144.6" y2="237.5" stroke="#7d5e4e" stroke-width="0.75"/>
<line x1="140.8" y1="248.3" x2="144.6" y2="248.3" stroke="#7d5e4e" stroke-width="0.75"/>
<circle cx="142.7" cy="241.4" r="1.95" fill="#fff" stroke="#7d5e4e" stroke-width="1.1"/>
<line x1="151.3" y1="228.8" x2="151.3" y2="252.4" stroke="#2a7474" stroke-width="0.75"/>
<line x1="149.4" y1="228.8" x2="153.2" y2="228.8" stroke="#2a7474" stroke-width="0.75"/>
<line x1="149.4" y1="252.4" x2="153.2" y2="252.4" stroke="#2a7474" stroke-width="0.75"/>
<circle cx="151.3" cy="236.8" r="1.95" fill="#fff" stroke="#2a7474" stroke-width="1.1"/>
<line x1="159.4" y1="228.6" x2="159.4" y2="242.1" stroke="#f4c76a" stroke-width="0.75"/>
<line x1="157.5" y1="228.6" x2="161.3" y2="228.6" stroke="#f4c76a" stroke-width="0.75"/>
<line x1="157.5" y1="242.1" x2="161.3" y2="242.1" stroke="#f4c76a" stroke-width="0.75"/>
<circle cx="159.4" cy="232.7" r="1.95" fill="#fff" stroke="#f4c76a" stroke-width="1.1"/>
<line x1="173.5" y1="190" x2="173.5" y2="266.4" stroke="#7cc46a" stroke-width="0.75"/>
<line x1="171.6" y1="190" x2="175.4" y2="190" stroke="#7cc46a" stroke-width="0.75"/>
<line x1="171.6" y1="266.4" x2="175.4" y2="266.4" stroke="#7cc46a" stroke-width="0.75"/>
<circle cx="173.5" cy="229" r="1.95" fill="#fff" stroke="#7cc46a" stroke-width="1.1"/>
<line x1="181.8" y1="189.2" x2="181.8" y2="237.3" stroke="#4fb1e0" stroke-width="0.75"/>
<line x1="179.9" y1="189.2" x2="183.7" y2="189.2" stroke="#4fb1e0" stroke-width="0.75"/>
<line x1="179.9" y1="237.3" x2="183.7" y2="237.3" stroke="#4fb1e0" stroke-width="0.75"/>
<circle cx="181.8" cy="198" r="1.95" fill="#fff" stroke="#4fb1e0" stroke-width="1.1"/>
<line x1="64.8" y1="283" x2="64.8" y2="180.2" stroke="#141414" stroke-width="1.25"/>
<line x1="64.2" y1="280.1" x2="187.8" y2="280.1" stroke="#141414" stroke-width="1.25"/>
<line x1="61.9" y1="280.1" x2="64.8" y2="280.1" stroke="#141414" stroke-width="1"/>
<text x="58.8" y="283" font-size="8.2" fill="#1e1e1e" text-anchor="end">0</text>
<line x1="61.9" y1="260.72" x2="64.8" y2="260.72" stroke="#141414" stroke-width="1"/>
<text x="58.8" y="263.62" font-size="8.2" fill="#1e1e1e" text-anchor="end">20</text>
<line x1="61.9" y1="241.34" x2="64.8" y2="241.34" stroke="#141414" stroke-width="1"/>
<text x="58.8" y="244.24" font-size="8.2" fill="#1e1e1e" text-anchor="end">40</text>
<line x1="61.9" y1="221.96" x2="64.8" y2="221.96" stroke="#141414" stroke-width="1"/>
<text x="58.8" y="224.86" font-size="8.2" fill="#1e1e1e" text-anchor="end">60</text>
<line x1="61.9" y1="202.58" x2="64.8" y2="202.58" stroke="#141414" stroke-width="1"/>
<text x="58.8" y="205.48" font-size="8.2" fill="#1e1e1e" text-anchor="end">80</text>
<line x1="61.9" y1="183.2" x2="64.8" y2="183.2" stroke="#141414" stroke-width="1"/>
<text x="58.8" y="186.1" font-size="8.2" fill="#1e1e1e" text-anchor="end">100</text>
<line x1="90.8" y1="280.1" x2="90.8" y2="283" stroke="#141414" stroke-width="1"/>
<line x1="142.8" y1="280.1" x2="142.8" y2="283" stroke="#141414" stroke-width="1"/>
<line x1="177.6" y1="280.1" x2="177.6" y2="283" stroke="#141414" stroke-width="1"/>
<text x="90.8" y="292.2" font-size="6.9" fill="#333" stroke="#333" stroke-width="0.05" text-anchor="middle">Low</text>
<text x="142.8" y="292.2" font-size="6.9" fill="#333" stroke="#333" stroke-width="0.05" text-anchor="middle">Mid</text>
<text x="177.6" y="292.2" font-size="6.9" fill="#333" stroke="#333" stroke-width="0.05" text-anchor="middle">High</text>
<text x="126.6" y="305.5" font-size="9.8" fill="#1e1e1e" stroke="#1e1e1e" stroke-width="0.3" text-anchor="middle" textLength="74" lengthAdjust="spacingAndGlyphs"><tspan font-style="italic">JAK2</tspan><tspan font-style="italic" font-size="6.4" dy="-3.9">V617F</tspan><tspan dy="3.9"> VAF categories</tspan></text>
<line x1="248.1" y1="268.75" x2="384.2" y2="182.6" stroke="#4d6a84" stroke-width="0.85"/>
<line x1="259" y1="280" x2="394.6" y2="193.4" stroke="#cc3c52" stroke-width="0.85"/>
<circle cx="248.1" cy="279.02" r="1.85" fill="#b8102e"/>
<rect x="246.2" y="278.1" width="3.8" height="3.8" fill="#1f4e79"/>
<circle cx="277.36" cy="269.24" r="1.85" fill="#b8102e"/>
<rect x="275.46" y="244.85" width="3.8" height="3.8" fill="#1f4e79"/>
<circle cx="306.62" cy="254.08" r="1.85" fill="#b8102e"/>
<rect x="304.72" y="221.38" width="3.8" height="3.8" fill="#1f4e79"/>
<circle cx="335.88" cy="238.92" r="1.85" fill="#b8102e"/>
<rect x="333.98" y="205.73" width="3.8" height="3.8" fill="#1f4e79"/>
<circle cx="365.14" cy="215.45" r="1.85" fill="#b8102e"/>
<rect x="363.24" y="191.06" width="3.8" height="3.8" fill="#1f4e79"/>
<circle cx="394.4" cy="182.2" r="1.85" fill="#b8102e"/>
<rect x="392.5" y="181.77" width="3.8" height="3.8" fill="#1f4e79"/>
<line x1="248.1" y1="282.9" x2="248.1" y2="179.2" stroke="#141414" stroke-width="1.25"/>
<line x1="247.5" y1="280" x2="396.4" y2="280" stroke="#141414" stroke-width="1.25"/>
<line x1="245.2" y1="280" x2="248.1" y2="280" stroke="#141414" stroke-width="1"/>
<text x="242.1" y="282.9" font-size="8.2" fill="#1e1e1e" text-anchor="end">0</text>
<line x1="245.2" y1="231.1" x2="248.1" y2="231.1" stroke="#141414" stroke-width="1"/>
<text x="242.1" y="234" font-size="8.2" fill="#1e1e1e" text-anchor="end">50</text>
<line x1="245.2" y1="182.2" x2="248.1" y2="182.2" stroke="#141414" stroke-width="1"/>
<text x="242.1" y="185.1" font-size="8.2" fill="#1e1e1e" text-anchor="end">100</text>
<line x1="248.1" y1="280" x2="248.1" y2="282.9" stroke="#141414" stroke-width="1"/>
<text x="248.1" y="292.8" font-size="8.2" fill="#1e1e1e" text-anchor="middle">0</text>
<line x1="321.25" y1="280" x2="321.25" y2="282.9" stroke="#141414" stroke-width="1"/>
<text x="321.25" y="292.8" font-size="8.2" fill="#1e1e1e" text-anchor="middle">50</text>
<line x1="394.4" y1="280" x2="394.4" y2="282.9" stroke="#141414" stroke-width="1"/>
<text x="394.4" y="292.8" font-size="8.2" fill="#1e1e1e" text-anchor="middle">100</text>
<text x="208" y="230" font-size="9.2" fill="#1e1e1e" stroke="#1e1e1e" stroke-width="0.26" text-anchor="middle" transform="rotate(-90 208 230)" dy="3.2" textLength="71" lengthAdjust="spacingAndGlyphs">Calculated <tspan fill="#c82a40" stroke="#c82a40">WBCs (%)</tspan> vs</text>
<text x="218.6" y="232.45" font-size="9.2" fill="#3a74b0" stroke="#3a74b0" stroke-width="0.26" text-anchor="middle" transform="rotate(-90 218.6 232.45)" dy="3.2" textLength="41.6" lengthAdjust="spacingAndGlyphs">Epithelium (%)</text>
<text x="322.8" y="305.2" font-size="9.2" fill="#1e1e1e" stroke="#1e1e1e" stroke-width="0.26" text-anchor="middle" textLength="113" lengthAdjust="spacingAndGlyphs">Expected <tspan fill="#c82a40" stroke="#c82a40">WBCs (%)</tspan> vs <tspan fill="#3a74b0" stroke="#3a74b0">Epithelium (%)</tspan></text>
<path d="M63.4 431.7 L68.7 431.9 L80.8 430.3 L86.7 431 L94.7 431.3 L111.9 431.5" fill="none" stroke="#d81e84" stroke-width="0.9" stroke-linejoin="round"/>
<circle cx="63.4" cy="431.7" r="1.7" fill="#c90c6c"/>
<circle cx="68.7" cy="431.9" r="1.7" fill="#c90c6c"/>
<circle cx="80.8" cy="430.3" r="1.7" fill="#c90c6c"/>
<circle cx="86.7" cy="431" r="1.7" fill="#c90c6c"/>
<circle cx="94.7" cy="431.3" r="1.7" fill="#c90c6c"/>
<circle cx="111.9" cy="431.5" r="1.7" fill="#c90c6c"/>
<line x1="41.6" y1="439.4" x2="41.6" y2="352.1" stroke="#141414" stroke-width="1.25"/>
<line x1="41" y1="436.5" x2="125.5" y2="436.5" stroke="#141414" stroke-width="1.25"/>
<line x1="38.7" y1="436.5" x2="41.6" y2="436.5" stroke="#141414" stroke-width="1"/>
<text x="35.6" y="439.4" font-size="8.2" fill="#1e1e1e" text-anchor="end">0</text>
<line x1="38.7" y1="420.22" x2="41.6" y2="420.22" stroke="#141414" stroke-width="1"/>
<text x="35.6" y="423.12" font-size="8.2" fill="#1e1e1e" text-anchor="end">20</text>
<line x1="38.7" y1="403.94" x2="41.6" y2="403.94" stroke="#141414" stroke-width="1"/>
<text x="35.6" y="406.84" font-size="8.2" fill="#1e1e1e" text-anchor="end">40</text>
<line x1="38.7" y1="387.66" x2="41.6" y2="387.66" stroke="#141414" stroke-width="1"/>
<text x="35.6" y="390.56" font-size="8.2" fill="#1e1e1e" text-anchor="end">60</text>
<line x1="38.7" y1="371.38" x2="41.6" y2="371.38" stroke="#141414" stroke-width="1"/>
<text x="35.6" y="374.28" font-size="8.2" fill="#1e1e1e" text-anchor="end">80</text>
<line x1="38.7" y1="355.1" x2="41.6" y2="355.1" stroke="#141414" stroke-width="1"/>
<text x="35.6" y="358" font-size="8.2" fill="#1e1e1e" text-anchor="end">100</text>
<line x1="41.6" y1="436.5" x2="41.6" y2="439.4" stroke="#141414" stroke-width="1"/>
<text x="41.6" y="450.1" font-size="8.2" fill="#1e1e1e" text-anchor="middle">0</text>
<line x1="57.94" y1="436.5" x2="57.94" y2="439.4" stroke="#141414" stroke-width="1"/>
<text x="57.94" y="450.1" font-size="8.2" fill="#1e1e1e" text-anchor="middle">20</text>
<line x1="74.28" y1="436.5" x2="74.28" y2="439.4" stroke="#141414" stroke-width="1"/>
<text x="74.28" y="450.1" font-size="8.2" fill="#1e1e1e" text-anchor="middle">40</text>
<line x1="90.62" y1="436.5" x2="90.62" y2="439.4" stroke="#141414" stroke-width="1"/>
<text x="90.62" y="450.1" font-size="8.2" fill="#1e1e1e" text-anchor="middle">60</text>
<line x1="106.96" y1="436.5" x2="106.96" y2="439.4" stroke="#141414" stroke-width="1"/>
<text x="106.96" y="450.1" font-size="8.2" fill="#1e1e1e" text-anchor="middle">80</text>
<line x1="123.3" y1="436.5" x2="123.3" y2="439.4" stroke="#141414" stroke-width="1"/>
<text x="123.3" y="450.1" font-size="8.2" fill="#1e1e1e" text-anchor="middle">100</text>
<text x="84" y="346.9" font-size="9.1" fill="#1a1a1a" stroke="#1a1a1a" stroke-width="0.1" text-anchor="middle">Low VAF</text>
<text x="17.3" y="418.66" font-size="8.5" fill="#262626" stroke="#262626" stroke-width="0.1" font-style="italic" transform="rotate(-90 17.3 418.66)" textLength="18.12" lengthAdjust="spacingAndGlyphs">JAK2</text>
<text x="13.8" y="400.74" font-size="5.355" fill="#262626" stroke="#262626" stroke-width="0.05" font-style="italic" transform="rotate(-90 13.8 400.74)" textLength="9.53" lengthAdjust="spacingAndGlyphs">V617F</text>
<text x="17.3" y="390.43" font-size="8.5" fill="#262626" stroke="#262626" stroke-width="0.1" font-style="italic" transform="rotate(-90 17.3 390.43)" textLength="20.57" lengthAdjust="spacingAndGlyphs">VAF (%)</text>
<text x="83.75" y="462.8" font-size="9.4" fill="#1e1e1e" stroke="#1e1e1e" stroke-width="0.42" text-anchor="middle" textLength="40.2" lengthAdjust="spacingAndGlyphs">Days on IFN&#945;</text>
<path d="M204.7 401.9 L211 401.4 L215.4 396.6 L219.7 403.6 L222.8 396.8 L229.6 399.3 L233.2 402.5 L237.4 396.6 L241.3 395.5 L245.1 393.6 L249.3 396 L253.5 397.6 L257.5 399.1 L261.3 397 L264.7 405.7 L268.1 392.3 L272.6 394.7 L276.2 388.3 L280 388.1 L283.8 394 L287.4 390.2 L290.5 407.4 L294.4 398.9 L297.7 391.3" fill="none" stroke="#d81e84" stroke-width="0.9" stroke-linejoin="round"/>
<circle cx="204.7" cy="401.9" r="1.7" fill="#c90c6c"/>
<circle cx="211" cy="401.4" r="1.7" fill="#c90c6c"/>
<circle cx="215.4" cy="396.6" r="1.7" fill="#c90c6c"/>
<circle cx="219.7" cy="403.6" r="1.7" fill="#c90c6c"/>
<circle cx="222.8" cy="396.8" r="1.7" fill="#c90c6c"/>
<circle cx="229.6" cy="399.3" r="1.7" fill="#c90c6c"/>
<circle cx="233.2" cy="402.5" r="1.7" fill="#c90c6c"/>
<circle cx="237.4" cy="396.6" r="1.7" fill="#c90c6c"/>
<circle cx="241.3" cy="395.5" r="1.7" fill="#c90c6c"/>
<circle cx="245.1" cy="393.6" r="1.7" fill="#c90c6c"/>
<circle cx="249.3" cy="396" r="1.7" fill="#c90c6c"/>
<circle cx="253.5" cy="397.6" r="1.7" fill="#c90c6c"/>
<circle cx="257.5" cy="399.1" r="1.7" fill="#c90c6c"/>
<circle cx="261.3" cy="397" r="1.7" fill="#c90c6c"/>
<circle cx="264.7" cy="405.7" r="1.7" fill="#c90c6c"/>
<circle cx="268.1" cy="392.3" r="1.7" fill="#c90c6c"/>
<circle cx="272.6" cy="394.7" r="1.7" fill="#c90c6c"/>
<circle cx="276.2" cy="388.3" r="1.7" fill="#c90c6c"/>
<circle cx="280" cy="388.1" r="1.7" fill="#c90c6c"/>
<circle cx="283.8" cy="394" r="1.7" fill="#c90c6c"/>
<circle cx="287.4" cy="390.2" r="1.7" fill="#c90c6c"/>
<circle cx="290.5" cy="407.4" r="1.7" fill="#c90c6c"/>
<circle cx="294.4" cy="398.9" r="1.7" fill="#c90c6c"/>
<circle cx="297.7" cy="391.3" r="1.7" fill="#c90c6c"/>
<line x1="193" y1="439.3" x2="193" y2="352.1" stroke="#141414" stroke-width="1.25"/>
<line x1="192.4" y1="436.4" x2="318.5" y2="436.4" stroke="#141414" stroke-width="1.25"/>
<line x1="190.1" y1="436.4" x2="193" y2="436.4" stroke="#141414" stroke-width="1"/>
<text x="187" y="439.3" font-size="8.2" fill="#1e1e1e" text-anchor="end">0</text>
<line x1="190.1" y1="420.14" x2="193" y2="420.14" stroke="#141414" stroke-width="1"/>
<text x="187" y="423.04" font-size="8.2" fill="#1e1e1e" text-anchor="end">20</text>
<line x1="190.1" y1="403.88" x2="193" y2="403.88" stroke="#141414" stroke-width="1"/>
<text x="187" y="406.78" font-size="8.2" fill="#1e1e1e" text-anchor="end">40</text>
<line x1="190.1" y1="387.62" x2="193" y2="387.62" stroke="#141414" stroke-width="1"/>
<text x="187" y="390.52" font-size="8.2" fill="#1e1e1e" text-anchor="end">60</text>
<line x1="190.1" y1="371.36" x2="193" y2="371.36" stroke="#141414" stroke-width="1"/>
<text x="187" y="374.26" font-size="8.2" fill="#1e1e1e" text-anchor="end">80</text>
<line x1="190.1" y1="355.1" x2="193" y2="355.1" stroke="#141414" stroke-width="1"/>
<text x="187" y="358" font-size="8.2" fill="#1e1e1e" text-anchor="end">100</text>
<line x1="193" y1="436.4" x2="193" y2="439.3" stroke="#141414" stroke-width="1"/>
<text x="193" y="450" font-size="8.2" fill="#1e1e1e" text-anchor="middle">0</text>
<line x1="217.53" y1="436.4" x2="217.53" y2="439.3" stroke="#141414" stroke-width="1"/>
<text x="217.53" y="450" font-size="8.2" fill="#1e1e1e" text-anchor="middle">50</text>
<line x1="242.05" y1="436.4" x2="242.05" y2="439.3" stroke="#141414" stroke-width="1"/>
<text x="242.05" y="450" font-size="8.2" fill="#1e1e1e" text-anchor="middle">100</text>
<line x1="266.57" y1="436.4" x2="266.57" y2="439.3" stroke="#141414" stroke-width="1"/>
<text x="266.57" y="450" font-size="8.2" fill="#1e1e1e" text-anchor="middle">150</text>
<line x1="291.1" y1="436.4" x2="291.1" y2="439.3" stroke="#141414" stroke-width="1"/>
<text x="291.1" y="450" font-size="8.2" fill="#1e1e1e" text-anchor="middle">200</text>
<line x1="315.62" y1="436.4" x2="315.62" y2="439.3" stroke="#141414" stroke-width="1"/>
<text x="315.62" y="450" font-size="8.2" fill="#1e1e1e" text-anchor="middle">250</text>
<text x="255.8" y="346.9" font-size="9.1" fill="#1a1a1a" stroke="#1a1a1a" stroke-width="0.1" text-anchor="middle">Mid VAF</text>
<text x="168.6" y="418.66" font-size="8.5" fill="#262626" stroke="#262626" stroke-width="0.1" font-style="italic" transform="rotate(-90 168.6 418.66)" textLength="18.12" lengthAdjust="spacingAndGlyphs">JAK2</text>
<text x="165.1" y="400.74" font-size="5.355" fill="#262626" stroke="#262626" stroke-width="0.05" font-style="italic" transform="rotate(-90 165.1 400.74)" textLength="9.53" lengthAdjust="spacingAndGlyphs">V617F</text>
<text x="168.6" y="390.43" font-size="8.5" fill="#262626" stroke="#262626" stroke-width="0.1" font-style="italic" transform="rotate(-90 168.6 390.43)" textLength="20.57" lengthAdjust="spacingAndGlyphs">VAF (%)</text>
<text x="255.35" y="462.7" font-size="9.4" fill="#1e1e1e" stroke="#1e1e1e" stroke-width="0.42" text-anchor="middle" textLength="40.2" lengthAdjust="spacingAndGlyphs">Days on IFN&#945;</text>
<path d="M385 380 L390.6 390 L426.2 365.5 L432.1 371.7 L467.9 386.7 L475.2 389.7 L488.4 380.8 L492.9 396.7" fill="none" stroke="#d81e84" stroke-width="0.9" stroke-linejoin="round"/>
<circle cx="385" cy="380" r="1.7" fill="#c90c6c"/>
<circle cx="390.6" cy="390" r="1.7" fill="#c90c6c"/>
<circle cx="426.2" cy="365.5" r="1.7" fill="#c90c6c"/>
<circle cx="432.1" cy="371.7" r="1.7" fill="#c90c6c"/>
<circle cx="467.9" cy="386.7" r="1.7" fill="#c90c6c"/>
<circle cx="475.2" cy="389.7" r="1.7" fill="#c90c6c"/>
<circle cx="488.4" cy="380.8" r="1.7" fill="#c90c6c"/>
<circle cx="492.9" cy="396.7" r="1.7" fill="#c90c6c"/>
<line x1="383.8" y1="439.4" x2="383.8" y2="352" stroke="#141414" stroke-width="1.25"/>
<line x1="383.2" y1="436.5" x2="508.6" y2="436.5" stroke="#141414" stroke-width="1.25"/>
<line x1="380.9" y1="436.5" x2="383.8" y2="436.5" stroke="#141414" stroke-width="1"/>
<text x="377.8" y="439.4" font-size="8.2" fill="#1e1e1e" text-anchor="end">0</text>
<line x1="380.9" y1="420.2" x2="383.8" y2="420.2" stroke="#141414" stroke-width="1"/>
<text x="377.8" y="423.1" font-size="8.2" fill="#1e1e1e" text-anchor="end">20</text>
<line x1="380.9" y1="403.9" x2="383.8" y2="403.9" stroke="#141414" stroke-width="1"/>
<text x="377.8" y="406.8" font-size="8.2" fill="#1e1e1e" text-anchor="end">40</text>
<line x1="380.9" y1="387.6" x2="383.8" y2="387.6" stroke="#141414" stroke-width="1"/>
<text x="377.8" y="390.5" font-size="8.2" fill="#1e1e1e" text-anchor="end">60</text>
<line x1="380.9" y1="371.3" x2="383.8" y2="371.3" stroke="#141414" stroke-width="1"/>
<text x="377.8" y="374.2" font-size="8.2" fill="#1e1e1e" text-anchor="end">80</text>
<line x1="380.9" y1="355" x2="383.8" y2="355" stroke="#141414" stroke-width="1"/>
<text x="377.8" y="357.9" font-size="8.2" fill="#1e1e1e" text-anchor="end">100</text>
<line x1="383.8" y1="436.5" x2="383.8" y2="439.4" stroke="#141414" stroke-width="1"/>
<text x="383.8" y="450.1" font-size="8.2" fill="#1e1e1e" text-anchor="middle">0</text>
<line x1="424.84" y1="436.5" x2="424.84" y2="439.4" stroke="#141414" stroke-width="1"/>
<text x="424.84" y="450.1" font-size="8.2" fill="#1e1e1e" text-anchor="middle">50</text>
<line x1="465.87" y1="436.5" x2="465.87" y2="439.4" stroke="#141414" stroke-width="1"/>
<text x="465.87" y="450.1" font-size="8.2" fill="#1e1e1e" text-anchor="middle">100</text>
<line x1="506.91" y1="436.5" x2="506.91" y2="439.4" stroke="#141414" stroke-width="1"/>
<text x="506.91" y="450.1" font-size="8.2" fill="#1e1e1e" text-anchor="middle">150</text>
<text x="445.6" y="346.9" font-size="9.1" fill="#1a1a1a" stroke="#1a1a1a" stroke-width="0.1" text-anchor="middle">High VAF</text>
<text x="359.4" y="418.76" font-size="8.5" fill="#262626" stroke="#262626" stroke-width="0.1" font-style="italic" transform="rotate(-90 359.4 418.76)" textLength="18.12" lengthAdjust="spacingAndGlyphs">JAK2</text>
<text x="355.9" y="400.84" font-size="5.355" fill="#262626" stroke="#262626" stroke-width="0.05" font-style="italic" transform="rotate(-90 355.9 400.84)" textLength="9.53" lengthAdjust="spacingAndGlyphs">V617F</text>
<text x="359.4" y="390.53" font-size="8.5" fill="#262626" stroke="#262626" stroke-width="0.1" font-style="italic" transform="rotate(-90 359.4 390.53)" textLength="20.57" lengthAdjust="spacingAndGlyphs">VAF (%)</text>
<text x="446.35" y="462.6" font-size="9.4" fill="#1e1e1e" stroke="#1e1e1e" stroke-width="0.42" text-anchor="middle" textLength="40.2" lengthAdjust="spacingAndGlyphs">Days on IFN&#945;</text>
<path d="M63.8 580.3 L68.7 580.9 L80.8 578.8 L86.7 579.9 L96.2 579.7 L111.9 580.5" fill="none" stroke="#d81e84" stroke-width="0.9" stroke-linejoin="round"/>
<circle cx="63.8" cy="580.3" r="1.7" fill="#c90c6c"/>
<circle cx="68.7" cy="580.9" r="1.7" fill="#c90c6c"/>
<circle cx="80.8" cy="578.8" r="1.7" fill="#c90c6c"/>
<circle cx="86.7" cy="579.9" r="1.7" fill="#c90c6c"/>
<circle cx="96.2" cy="579.7" r="1.7" fill="#c90c6c"/>
<circle cx="111.9" cy="580.5" r="1.7" fill="#c90c6c"/>
<line x1="41.5" y1="589.8" x2="41.5" y2="502.2" stroke="#141414" stroke-width="1.25"/>
<line x1="40.9" y1="586.9" x2="125.5" y2="586.9" stroke="#141414" stroke-width="1.25"/>
<line x1="38.6" y1="586.9" x2="41.5" y2="586.9" stroke="#141414" stroke-width="1"/>
<text x="35.5" y="589.8" font-size="8.2" fill="#1e1e1e" text-anchor="end">0</text>
<line x1="38.6" y1="570.56" x2="41.5" y2="570.56" stroke="#141414" stroke-width="1"/>
<text x="35.5" y="573.46" font-size="8.2" fill="#1e1e1e" text-anchor="end">20</text>
<line x1="38.6" y1="554.22" x2="41.5" y2="554.22" stroke="#141414" stroke-width="1"/>
<text x="35.5" y="557.12" font-size="8.2" fill="#1e1e1e" text-anchor="end">40</text>
<line x1="38.6" y1="537.88" x2="41.5" y2="537.88" stroke="#141414" stroke-width="1"/>
<text x="35.5" y="540.78" font-size="8.2" fill="#1e1e1e" text-anchor="end">60</text>
<line x1="38.6" y1="521.54" x2="41.5" y2="521.54" stroke="#141414" stroke-width="1"/>
<text x="35.5" y="524.44" font-size="8.2" fill="#1e1e1e" text-anchor="end">80</text>
<line x1="38.6" y1="505.2" x2="41.5" y2="505.2" stroke="#141414" stroke-width="1"/>
<text x="35.5" y="508.1" font-size="8.2" fill="#1e1e1e" text-anchor="end">100</text>
<line x1="41.5" y1="586.9" x2="41.5" y2="589.8" stroke="#141414" stroke-width="1"/>
<text x="41.5" y="600.5" font-size="8.2" fill="#1e1e1e" text-anchor="middle">0</text>
<line x1="57.84" y1="586.9" x2="57.84" y2="589.8" stroke="#141414" stroke-width="1"/>
<text x="57.84" y="600.5" font-size="8.2" fill="#1e1e1e" text-anchor="middle">20</text>
<line x1="74.18" y1="586.9" x2="74.18" y2="589.8" stroke="#141414" stroke-width="1"/>
<text x="74.18" y="600.5" font-size="8.2" fill="#1e1e1e" text-anchor="middle">40</text>
<line x1="90.52" y1="586.9" x2="90.52" y2="589.8" stroke="#141414" stroke-width="1"/>
<text x="90.52" y="600.5" font-size="8.2" fill="#1e1e1e" text-anchor="middle">60</text>
<line x1="106.86" y1="586.9" x2="106.86" y2="589.8" stroke="#141414" stroke-width="1"/>
<text x="106.86" y="600.5" font-size="8.2" fill="#1e1e1e" text-anchor="middle">80</text>
<line x1="123.2" y1="586.9" x2="123.2" y2="589.8" stroke="#141414" stroke-width="1"/>
<text x="123.2" y="600.5" font-size="8.2" fill="#1e1e1e" text-anchor="middle">100</text>
<text x="17.3" y="569.16" font-size="8.5" fill="#262626" stroke="#262626" stroke-width="0.1" font-style="italic" transform="rotate(-90 17.3 569.16)" textLength="18.12" lengthAdjust="spacingAndGlyphs">JAK2</text>
<text x="13.8" y="551.24" font-size="5.355" fill="#262626" stroke="#262626" stroke-width="0.05" font-style="italic" transform="rotate(-90 13.8 551.24)" textLength="9.53" lengthAdjust="spacingAndGlyphs">V617F</text>
<text x="17.3" y="540.93" font-size="8.5" fill="#262626" stroke="#262626" stroke-width="0.1" font-style="italic" transform="rotate(-90 17.3 540.93)" textLength="20.57" lengthAdjust="spacingAndGlyphs">VAF (%)</text>
<text x="83.85" y="612.5" font-size="9.4" fill="#1e1e1e" stroke="#1e1e1e" stroke-width="0.42" text-anchor="middle" textLength="40.2" lengthAdjust="spacingAndGlyphs">Days on IFN&#945;</text>
<path d="M207.1 550.3 L213.4 550 L217.2 543.3 L221.4 544.3 L224.6 540.1 L231.4 542.2 L235.2 540.1 L239.4 543.3 L243.2 542 L247 541.2 L251.3 542 L255.3 541.8 L259.5 543.3 L263.1 539.7 L266.9 536.5 L270.1 538 L274.3 542.4 L277.9 537.6 L281.7 534.8 L286 534.2 L289.6 538.6 L293.4 540.5 L296.3 542.2 L299.7 538" fill="none" stroke="#d81e84" stroke-width="0.9" stroke-linejoin="round"/>
<circle cx="207.1" cy="550.3" r="1.7" fill="#c90c6c"/>
<circle cx="213.4" cy="550" r="1.7" fill="#c90c6c"/>
<circle cx="217.2" cy="543.3" r="1.7" fill="#c90c6c"/>
<circle cx="221.4" cy="544.3" r="1.7" fill="#c90c6c"/>
<circle cx="224.6" cy="540.1" r="1.7" fill="#c90c6c"/>
<circle cx="231.4" cy="542.2" r="1.7" fill="#c90c6c"/>
<circle cx="235.2" cy="540.1" r="1.7" fill="#c90c6c"/>
<circle cx="239.4" cy="543.3" r="1.7" fill="#c90c6c"/>
<circle cx="243.2" cy="542" r="1.7" fill="#c90c6c"/>
<circle cx="247" cy="541.2" r="1.7" fill="#c90c6c"/>
<circle cx="251.3" cy="542" r="1.7" fill="#c90c6c"/>
<circle cx="255.3" cy="541.8" r="1.7" fill="#c90c6c"/>
<circle cx="259.5" cy="543.3" r="1.7" fill="#c90c6c"/>
<circle cx="263.1" cy="539.7" r="1.7" fill="#c90c6c"/>
<circle cx="266.9" cy="536.5" r="1.7" fill="#c90c6c"/>
<circle cx="270.1" cy="538" r="1.7" fill="#c90c6c"/>
<circle cx="274.3" cy="542.4" r="1.7" fill="#c90c6c"/>
<circle cx="277.9" cy="537.6" r="1.7" fill="#c90c6c"/>
<circle cx="281.7" cy="534.8" r="1.7" fill="#c90c6c"/>
<circle cx="286" cy="534.2" r="1.7" fill="#c90c6c"/>
<circle cx="289.6" cy="538.6" r="1.7" fill="#c90c6c"/>
<circle cx="293.4" cy="540.5" r="1.7" fill="#c90c6c"/>
<circle cx="296.3" cy="542.2" r="1.7" fill="#c90c6c"/>
<circle cx="299.7" cy="538" r="1.7" fill="#c90c6c"/>
<line x1="194.9" y1="589.9" x2="194.9" y2="502.2" stroke="#141414" stroke-width="1.25"/>
<line x1="194.3" y1="587" x2="319.5" y2="587" stroke="#141414" stroke-width="1.25"/>
<line x1="192" y1="587" x2="194.9" y2="587" stroke="#141414" stroke-width="1"/>
<text x="188.9" y="589.9" font-size="8.2" fill="#1e1e1e" text-anchor="end">0</text>
<line x1="192" y1="570.64" x2="194.9" y2="570.64" stroke="#141414" stroke-width="1"/>
<text x="188.9" y="573.54" font-size="8.2" fill="#1e1e1e" text-anchor="end">20</text>
<line x1="192" y1="554.28" x2="194.9" y2="554.28" stroke="#141414" stroke-width="1"/>
<text x="188.9" y="557.18" font-size="8.2" fill="#1e1e1e" text-anchor="end">40</text>
<line x1="192" y1="537.92" x2="194.9" y2="537.92" stroke="#141414" stroke-width="1"/>
<text x="188.9" y="540.82" font-size="8.2" fill="#1e1e1e" text-anchor="end">60</text>
<line x1="192" y1="521.56" x2="194.9" y2="521.56" stroke="#141414" stroke-width="1"/>
<text x="188.9" y="524.46" font-size="8.2" fill="#1e1e1e" text-anchor="end">80</text>
<line x1="192" y1="505.2" x2="194.9" y2="505.2" stroke="#141414" stroke-width="1"/>
<text x="188.9" y="508.1" font-size="8.2" fill="#1e1e1e" text-anchor="end">100</text>
<line x1="194.9" y1="587" x2="194.9" y2="589.9" stroke="#141414" stroke-width="1"/>
<text x="194.9" y="600.6" font-size="8.2" fill="#1e1e1e" text-anchor="middle">0</text>
<line x1="219.33" y1="587" x2="219.33" y2="589.9" stroke="#141414" stroke-width="1"/>
<text x="219.33" y="600.6" font-size="8.2" fill="#1e1e1e" text-anchor="middle">50</text>
<line x1="243.75" y1="587" x2="243.75" y2="589.9" stroke="#141414" stroke-width="1"/>
<text x="243.75" y="600.6" font-size="8.2" fill="#1e1e1e" text-anchor="middle">100</text>
<line x1="268.18" y1="587" x2="268.18" y2="589.9" stroke="#141414" stroke-width="1"/>
<text x="268.18" y="600.6" font-size="8.2" fill="#1e1e1e" text-anchor="middle">150</text>
<line x1="292.6" y1="587" x2="292.6" y2="589.9" stroke="#141414" stroke-width="1"/>
<text x="292.6" y="600.6" font-size="8.2" fill="#1e1e1e" text-anchor="middle">200</text>
<line x1="317.02" y1="587" x2="317.02" y2="589.9" stroke="#141414" stroke-width="1"/>
<text x="317.02" y="600.6" font-size="8.2" fill="#1e1e1e" text-anchor="middle">250</text>
<text x="170.5" y="569.16" font-size="8.5" fill="#262626" stroke="#262626" stroke-width="0.1" font-style="italic" transform="rotate(-90 170.5 569.16)" textLength="18.12" lengthAdjust="spacingAndGlyphs">JAK2</text>
<text x="167" y="551.24" font-size="5.355" fill="#262626" stroke="#262626" stroke-width="0.05" font-style="italic" transform="rotate(-90 167 551.24)" textLength="9.53" lengthAdjust="spacingAndGlyphs">V617F</text>
<text x="170.5" y="540.93" font-size="8.5" fill="#262626" stroke="#262626" stroke-width="0.1" font-style="italic" transform="rotate(-90 170.5 540.93)" textLength="20.57" lengthAdjust="spacingAndGlyphs">VAF (%)</text>
<text x="257.4" y="612.4" font-size="9.4" fill="#1e1e1e" stroke="#1e1e1e" stroke-width="0.42" text-anchor="middle" textLength="40.2" lengthAdjust="spacingAndGlyphs">Days on IFN&#945;</text>
<path d="M385 516.5 L390.6 519.2 L426.2 511.2 L432.1 513.3 L467.9 517.3 L475.2 513.3 L488.4 511.7 L493.5 517.6" fill="none" stroke="#d81e84" stroke-width="0.9" stroke-linejoin="round"/>
<circle cx="385" cy="516.5" r="1.7" fill="#c90c6c"/>
<circle cx="390.6" cy="519.2" r="1.7" fill="#c90c6c"/>
<circle cx="426.2" cy="511.2" r="1.7" fill="#c90c6c"/>
<circle cx="432.1" cy="513.3" r="1.7" fill="#c90c6c"/>
<circle cx="467.9" cy="517.3" r="1.7" fill="#c90c6c"/>
<circle cx="475.2" cy="513.3" r="1.7" fill="#c90c6c"/>
<circle cx="488.4" cy="511.7" r="1.7" fill="#c90c6c"/>
<circle cx="493.5" cy="517.6" r="1.7" fill="#c90c6c"/>
<line x1="383.8" y1="590.4" x2="383.8" y2="502.2" stroke="#141414" stroke-width="1.25"/>
<line x1="383.2" y1="587.5" x2="508.6" y2="587.5" stroke="#141414" stroke-width="1.25"/>
<line x1="380.9" y1="587.5" x2="383.8" y2="587.5" stroke="#141414" stroke-width="1"/>
<text x="377.8" y="590.4" font-size="8.2" fill="#1e1e1e" text-anchor="end">0</text>
<line x1="380.9" y1="571.04" x2="383.8" y2="571.04" stroke="#141414" stroke-width="1"/>
<text x="377.8" y="573.94" font-size="8.2" fill="#1e1e1e" text-anchor="end">20</text>
<line x1="380.9" y1="554.58" x2="383.8" y2="554.58" stroke="#141414" stroke-width="1"/>
<text x="377.8" y="557.48" font-size="8.2" fill="#1e1e1e" text-anchor="end">40</text>
<line x1="380.9" y1="538.12" x2="383.8" y2="538.12" stroke="#141414" stroke-width="1"/>
<text x="377.8" y="541.02" font-size="8.2" fill="#1e1e1e" text-anchor="end">60</text>
<line x1="380.9" y1="521.66" x2="383.8" y2="521.66" stroke="#141414" stroke-width="1"/>
<text x="377.8" y="524.56" font-size="8.2" fill="#1e1e1e" text-anchor="end">80</text>
<line x1="380.9" y1="505.2" x2="383.8" y2="505.2" stroke="#141414" stroke-width="1"/>
<text x="377.8" y="508.1" font-size="8.2" fill="#1e1e1e" text-anchor="end">100</text>
<line x1="383.8" y1="587.5" x2="383.8" y2="590.4" stroke="#141414" stroke-width="1"/>
<text x="383.8" y="601.1" font-size="8.2" fill="#1e1e1e" text-anchor="middle">0</text>
<line x1="424.84" y1="587.5" x2="424.84" y2="590.4" stroke="#141414" stroke-width="1"/>
<text x="424.84" y="601.1" font-size="8.2" fill="#1e1e1e" text-anchor="middle">50</text>
<line x1="465.87" y1="587.5" x2="465.87" y2="590.4" stroke="#141414" stroke-width="1"/>
<text x="465.87" y="601.1" font-size="8.2" fill="#1e1e1e" text-anchor="middle">100</text>
<line x1="506.91" y1="587.5" x2="506.91" y2="590.4" stroke="#141414" stroke-width="1"/>
<text x="506.91" y="601.1" font-size="8.2" fill="#1e1e1e" text-anchor="middle">150</text>
<text x="359.5" y="569.16" font-size="8.5" fill="#262626" stroke="#262626" stroke-width="0.1" font-style="italic" transform="rotate(-90 359.5 569.16)" textLength="18.12" lengthAdjust="spacingAndGlyphs">JAK2</text>
<text x="356" y="551.24" font-size="5.355" fill="#262626" stroke="#262626" stroke-width="0.05" font-style="italic" transform="rotate(-90 356 551.24)" textLength="9.53" lengthAdjust="spacingAndGlyphs">V617F</text>
<text x="359.5" y="540.93" font-size="8.5" fill="#262626" stroke="#262626" stroke-width="0.1" font-style="italic" transform="rotate(-90 359.5 540.93)" textLength="20.57" lengthAdjust="spacingAndGlyphs">VAF (%)</text>
<text x="446.15" y="612.4" font-size="9.4" fill="#1e1e1e" stroke="#1e1e1e" stroke-width="0.42" text-anchor="middle" textLength="40.2" lengthAdjust="spacingAndGlyphs">Days on IFN&#945;</text>
<line x1="84" y1="479.3" x2="84" y2="499" stroke="#111" stroke-width="1.2"/>
<path d="M80.7 496.6 L84 499.2 L87.3 496.6 L84 504.7 Z" fill="#111"/>
<line x1="257.6" y1="479.3" x2="257.6" y2="499" stroke="#111" stroke-width="1.2"/>
<path d="M254.3 496.6 L257.6 499.2 L260.9 496.6 L257.6 504.7 Z" fill="#111"/>
<line x1="446.5" y1="479.3" x2="446.5" y2="499" stroke="#111" stroke-width="1.2"/>
<path d="M443.2 496.6 L446.5 499.2 L449.8 496.6 L446.5 504.7 Z" fill="#111"/>
</svg></body></html>
